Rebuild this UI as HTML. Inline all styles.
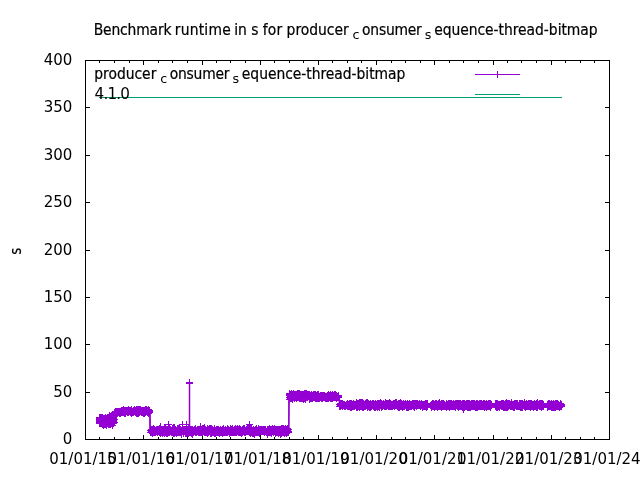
<!DOCTYPE html>
<html><head><meta charset="utf-8"><title>Benchmark runtime</title>
<style>html,body{margin:0;padding:0;background:#fff;overflow:hidden}svg{display:block}</style>
</head><body>
<svg width="640" height="480" viewBox="0 0 640 480">
<rect width="640" height="480" fill="#fff"/>
<path d="M99.5 439.5v-2.5M99.5 60.5v2.5M114.5 439.5v-2.5M114.5 60.5v2.5M129.5 439.5v-2.5M129.5 60.5v2.5M143.5 439.5v-4.5M143.5 60.5v4.5M158.5 439.5v-2.5M158.5 60.5v2.5M172.5 439.5v-2.5M172.5 60.5v2.5M187.5 439.5v-2.5M187.5 60.5v2.5M202.5 439.5v-4.5M202.5 60.5v4.5M216.5 439.5v-2.5M216.5 60.5v2.5M230.5 439.5v-2.5M230.5 60.5v2.5M245.5 439.5v-2.5M245.5 60.5v2.5M260.5 439.5v-4.5M260.5 60.5v4.5M274.5 439.5v-2.5M274.5 60.5v2.5M289.5 439.5v-2.5M289.5 60.5v2.5M303.5 439.5v-2.5M303.5 60.5v2.5M318.5 439.5v-4.5M318.5 60.5v4.5M332.5 439.5v-2.5M332.5 60.5v2.5M347.5 439.5v-2.5M347.5 60.5v2.5M361.5 439.5v-2.5M361.5 60.5v2.5M376.5 439.5v-4.5M376.5 60.5v4.5M391.5 439.5v-2.5M391.5 60.5v2.5M405.5 439.5v-2.5M405.5 60.5v2.5M420.5 439.5v-2.5M420.5 60.5v2.5M434.5 439.5v-4.5M434.5 60.5v4.5M449.5 439.5v-2.5M449.5 60.5v2.5M463.5 439.5v-2.5M463.5 60.5v2.5M478.5 439.5v-2.5M478.5 60.5v2.5M493.5 439.5v-4.5M493.5 60.5v4.5M507.5 439.5v-2.5M507.5 60.5v2.5M521.5 439.5v-2.5M521.5 60.5v2.5M536.5 439.5v-2.5M536.5 60.5v2.5M551.5 439.5v-4.5M551.5 60.5v4.5M565.5 439.5v-2.5M565.5 60.5v2.5M580.5 439.5v-2.5M580.5 60.5v2.5M594.5 439.5v-2.5M594.5 60.5v2.5M85.5 392.5h4.5M609.5 392.5h-4.5M85.5 344.5h4.5M609.5 344.5h-4.5M85.5 297.5h4.5M609.5 297.5h-4.5M85.5 250.5h4.5M609.5 250.5h-4.5M85.5 202.5h4.5M609.5 202.5h-4.5M85.5 155.5h4.5M609.5 155.5h-4.5M85.5 107.5h4.5M609.5 107.5h-4.5" stroke="#000" stroke-width="1" fill="none"/>
<path d="M99.5 419.7L99.6 421.3L99.6 418.1L99.7 417.9L99.8 420.7L99.8 422.3L99.9 421.8L100.0 423.9L100.1 418.2L100.1 419.2L100.2 422.1L100.3 417.7L100.3 422.4L100.4 421.2L100.5 423.4L100.5 421.7L100.6 423.1L100.7 420.5L100.8 418.9L100.8 423.3L100.9 423.9L101.0 421.4L101.0 423.3L101.1 417.8L101.2 422.4L101.2 420.0L101.3 417.5L101.4 417.9L101.5 417.8L101.5 418.3L101.6 421.8L101.7 418.9L101.7 420.2L101.8 418.6L101.9 418.9L101.9 417.2L102.0 420.6L102.1 421.1L102.2 422.9L102.2 423.7L102.3 420.7L102.4 418.0L102.4 418.9L102.5 417.4L102.6 418.7L102.6 422.1L102.7 419.1L102.8 424.0L102.9 421.0L102.9 420.0L103.0 424.3L103.1 421.5L103.1 421.8L103.2 424.8L103.3 419.9L103.3 423.3L103.4 418.8L103.5 425.1L103.6 422.5L103.6 421.4L103.7 419.5L103.8 422.0L103.8 425.1L103.9 420.1L104.0 419.1L104.0 423.8L104.1 423.5L104.2 422.5L104.3 420.5L104.3 423.6L104.4 419.7L104.5 424.7L104.5 418.6L104.6 423.9L104.7 421.8L104.7 422.1L104.8 422.4L104.9 424.9L105.0 418.5L105.0 419.4L105.1 420.4L105.2 423.9L105.2 424.4L105.3 424.0L105.4 417.4L105.4 421.8L105.5 418.6L105.6 419.4L105.7 421.9L105.7 419.5L105.8 422.8L105.9 424.1L105.9 421.6L106.0 420.7L106.1 420.8L106.1 424.0L106.2 421.7L106.3 418.1L106.4 418.3L106.4 423.5L106.5 418.4L106.6 424.0L106.6 418.7L106.7 425.1L106.8 418.3L106.8 418.8L106.9 423.4L107.0 418.9L107.1 422.7L107.1 423.7L107.2 418.6L107.3 419.5L107.3 420.6L107.4 418.2L107.5 421.8L107.5 422.7L107.6 417.5L107.7 417.5L107.8 417.6L107.8 421.6L107.9 419.1L108.0 418.1L108.0 417.6L108.1 423.4L108.2 421.1L108.2 421.7L108.3 421.6L108.4 421.4L108.5 421.0L108.5 423.3L108.6 424.8L108.7 423.5L108.7 419.7L108.8 418.3L108.9 418.3L108.9 423.7L109.0 419.0L109.1 420.6L109.2 424.8L109.2 421.8L109.3 418.8L109.4 420.9L109.4 419.1L109.5 418.0L109.6 415.6L109.6 418.6L109.7 422.3L109.8 423.7L109.9 419.1L109.9 422.6L110.0 421.6L110.1 423.2L110.1 423.7L110.2 424.0L110.3 422.4L110.3 417.4L110.4 423.8L110.5 422.0L110.6 417.0L110.6 422.6L110.7 417.6L110.8 419.1L110.8 419.2L110.9 424.4L111.0 422.6L111.0 421.9L111.1 419.0L111.2 419.4L111.3 419.0L111.3 422.1L111.4 420.8L111.5 418.0L111.5 423.6L111.6 423.7L111.7 420.4L111.7 418.9L111.8 417.9L111.9 422.9L112.0 423.5L112.0 415.1L112.1 420.9L112.2 418.6L112.2 425.5L112.3 423.1L112.4 423.7L112.4 419.0L112.5 423.8L112.6 418.6L112.7 416.8L112.7 418.7L112.8 419.6L112.9 423.5L112.9 421.3L113.0 421.4L113.1 421.7L113.1 417.7L113.2 422.8L113.3 418.2L113.4 423.2L113.4 419.9L113.5 417.3L113.6 420.2L113.6 422.6L113.7 417.2L113.8 418.3L113.8 420.2L113.9 421.0L114.0 418.6L114.1 416.2L114.1 419.3L114.2 422.1L114.6 412.6L114.7 413.1L114.8 412.1L115.0 413.0L115.1 412.4L115.2 412.3L115.3 412.3L115.4 412.7L115.6 411.5L115.7 412.5L115.8 412.5L115.9 413.0L116.0 412.0L116.2 411.8L116.3 412.5L116.4 412.4L116.5 413.2L116.6 412.5L116.8 412.5L116.9 412.4L117.0 412.4L117.1 412.1L117.2 412.5L117.4 412.1L117.5 412.8L117.6 412.7L117.7 412.0L117.8 413.0L118.0 412.1L118.1 411.6L118.2 412.3L118.3 411.8L118.4 411.4L118.6 412.1L118.7 412.7L118.8 412.5L118.9 411.6L119.0 412.7L119.2 412.2L119.3 412.4L119.4 413.0L119.5 412.0L119.6 412.3L119.8 411.7L119.9 411.4L120.0 412.6L120.1 413.2L120.2 412.7L120.4 412.5L120.5 412.1L120.6 411.4L120.7 412.7L120.8 413.2L121.0 412.1L121.1 411.9L121.2 412.3L121.3 412.3L121.4 412.5L121.6 412.2L121.9 410.4L122.0 412.6L122.1 412.3L122.3 411.7L122.4 411.7L122.5 412.2L122.6 410.1L122.7 412.2L122.9 411.7L123.0 411.5L123.1 411.4L123.2 409.7L123.3 412.5L123.5 411.1L123.6 411.1L123.7 412.5L123.8 412.0L123.9 411.6L124.1 411.3L124.2 413.1L124.3 410.8L124.4 410.5L124.5 411.8L124.7 411.9L124.8 410.1L124.9 410.8L125.0 410.9L125.1 411.5L125.3 411.1L125.4 411.4L125.5 411.7L125.6 410.3L125.7 413.1L125.9 411.4L126.0 411.8L126.1 411.2L126.2 410.5L126.3 410.5L126.5 410.5L126.6 411.2L126.7 411.0L126.8 410.7L126.9 411.1L127.1 411.4L127.2 412.0L127.3 410.7L127.4 411.0L127.5 410.8L127.7 411.4L127.8 411.8L127.9 411.4L128.0 412.4L128.1 409.8L128.3 411.8L128.4 411.8L128.5 412.1L128.6 411.1L128.7 411.3L128.9 412.9L129.0 410.4L129.1 410.7L129.2 411.8L129.3 411.8L129.5 411.1L129.6 410.6L129.7 410.9L129.8 411.2L129.9 411.9L130.1 411.8L130.2 411.6L130.3 411.2L130.4 411.1L130.5 410.8L130.7 411.8L130.8 411.0L130.9 412.4L131.0 413.1L131.1 409.7L131.3 411.3L131.4 413.2L131.5 410.8L131.6 409.9L131.7 412.4L131.9 412.5L132.0 411.5L132.1 412.4L132.2 412.0L132.3 411.8L132.5 412.0L132.6 412.2L132.7 412.0L132.8 411.5L132.9 411.8L133.1 411.1L133.2 411.4L133.3 412.4L133.4 410.7L133.5 411.5L133.7 410.8L133.8 411.7L133.9 410.9L134.0 410.6L134.1 411.3L134.3 411.1L134.4 409.7L134.5 411.4L134.6 411.2L134.7 410.5L134.9 410.8L135.0 410.4L135.1 411.9L135.2 410.5L135.3 411.7L135.5 410.8L135.6 411.4L135.7 410.9L135.8 411.5L135.9 412.0L136.1 412.1L136.2 411.2L136.3 411.4L136.4 411.2L136.5 409.9L136.7 410.6L136.8 411.4L136.9 413.1L137.0 409.7L137.1 412.2L137.3 413.1L137.4 411.8L137.5 411.1L137.6 412.1L137.7 411.7L137.9 411.9L138.0 411.0L138.1 409.7L138.2 411.4L138.3 410.7L138.5 411.4L138.6 412.5L138.7 413.1L138.8 412.1L138.9 412.7L139.1 410.9L139.2 410.8L139.3 409.9L139.4 410.6L139.5 410.8L139.7 410.8L139.8 412.5L139.9 411.3L140.0 410.9L140.1 411.6L140.3 411.7L140.4 410.8L140.5 410.3L140.6 410.8L140.7 409.3L140.9 410.7L141.0 410.8L141.1 411.8L141.2 411.9L141.3 412.2L141.5 411.4L141.6 411.6L141.7 412.5L141.8 410.7L141.9 410.7L142.1 411.4L142.2 411.9L142.3 412.4L142.4 410.3L142.5 412.6L142.7 411.5L142.8 410.8L142.9 410.7L143.0 411.4L143.1 413.1L143.3 410.9L143.4 411.7L143.5 412.5L143.6 411.5L143.7 411.8L143.9 412.5L144.0 411.6L144.1 410.9L144.2 413.1L144.3 411.9L144.5 413.0L144.6 411.5L144.7 411.4L144.8 410.5L144.9 411.4L145.1 411.6L145.2 410.8L145.3 409.9L145.4 410.5L145.5 411.1L145.7 411.3L145.8 412.6L145.9 411.5L146.0 411.3L146.1 411.3L146.3 409.7L146.4 412.0L146.5 410.9L146.6 410.5L146.7 410.4L146.9 409.8L147.0 411.7L147.1 410.1L147.2 411.9L147.3 411.7L147.5 412.6L147.6 411.5L147.7 411.6L147.8 411.1L147.9 411.8L148.1 411.0L148.2 410.3L148.3 412.4L148.4 411.9L148.5 412.2L148.7 409.8L148.8 413.1L148.9 410.4L149.0 411.6L149.1 411.5L149.3 410.3L149.4 410.2L149.5 411.7L149.6 411.6L149.7 411.0L149.9 412.2L150.0 411.1L150.6 432.8L150.7 432.3L150.8 430.7L151.0 432.2L151.1 431.2L151.2 430.0L151.3 432.5L151.4 431.3L151.6 430.6L151.7 431.8L151.8 431.0L151.9 432.3L152.0 431.0L152.2 431.5L152.3 432.2L152.4 430.8L152.5 433.3L152.6 430.6L152.8 429.7L152.9 432.8L153.0 432.0L153.1 430.3L153.2 430.2L153.4 431.4L153.5 430.7L153.6 428.9L153.7 432.1L153.8 430.2L154.0 431.1L154.1 432.3L154.2 431.0L154.3 429.3L154.4 432.2L154.6 432.8L154.7 431.6L154.8 432.1L154.9 431.9L155.0 431.9L155.2 431.3L155.3 431.9L155.4 431.4L155.5 431.6L155.6 430.3L155.8 430.9L155.9 432.8L156.0 430.7L156.1 431.9L156.2 431.7L156.4 430.9L156.5 429.8L156.6 431.6L156.7 431.5L156.8 430.3L157.0 430.5L157.1 429.7L157.2 432.0L157.3 432.2L157.4 432.0L157.6 430.3L157.7 430.3L157.8 431.4L157.9 431.3L158.0 429.2L158.2 430.2L158.3 430.0L158.4 432.0L158.5 431.7L158.6 430.4L158.8 430.4L158.9 430.1L159.0 430.2L159.1 431.7L159.2 432.5L159.4 428.7L159.5 431.3L159.6 431.2L159.7 432.3L159.8 430.5L160.0 429.2L160.1 430.5L160.2 431.7L160.3 429.8L160.4 431.4L160.6 432.7L160.7 433.3L160.8 433.3L160.9 430.8L161.0 430.4L161.2 432.1L161.3 430.5L161.4 431.7L161.5 432.3L161.6 430.5L161.8 430.4L161.9 431.5L162.0 431.6L162.1 429.5L162.2 431.4L162.4 433.3L162.5 431.9L162.6 429.1L162.7 430.4L162.8 430.8L163.0 431.5L163.1 430.3L163.2 430.3L163.3 432.6L163.4 431.3L163.6 430.6L163.7 432.2L163.8 430.4L163.9 430.1L164.0 433.0L164.2 431.8L164.3 432.4L164.4 432.7L164.5 427.5L164.6 430.5L164.8 430.3L164.9 431.2L165.0 433.0L165.1 432.7L165.2 429.8L165.4 429.4L165.5 429.7L165.6 431.5L165.7 428.9L165.8 429.1L166.0 430.6L166.1 430.2L166.2 430.7L166.3 430.6L166.4 431.0L166.6 429.7L166.7 431.1L166.8 433.2L166.9 431.1L167.0 429.9L167.2 429.1L167.3 431.4L167.4 430.9L167.5 432.6L167.6 431.3L167.8 429.4L167.9 433.3L168.0 431.2L168.1 430.8L168.2 429.8L168.4 432.9L168.5 429.1L168.6 430.7L168.7 429.7L168.8 431.7L169.0 431.5L169.1 430.0L169.2 428.7L169.3 430.9L169.4 430.5L169.6 431.9L169.7 429.7L169.8 429.5L169.9 432.1L170.0 430.0L170.2 431.7L170.3 431.0L170.4 429.9L170.5 429.3L170.6 429.8L170.8 429.9L170.9 430.7L171.0 430.3L171.1 431.0L171.2 430.5L171.4 433.0L171.5 430.4L171.6 430.1L171.7 430.2L171.8 430.7L172.0 430.5L172.1 432.1L172.2 432.4L172.3 428.3L172.4 431.5L172.6 432.1L172.7 430.2L172.8 430.4L172.9 432.3L173.0 430.8L173.2 430.5L173.3 430.4L173.4 427.4L173.5 433.2L173.6 433.1L173.8 431.2L173.9 431.2L174.0 430.9L174.1 430.3L174.2 430.5L174.4 428.8L174.5 429.8L174.6 429.7L174.7 430.9L174.8 433.3L175.0 427.5L175.1 431.2L175.2 430.6L175.3 432.2L175.4 433.0L175.6 430.0L175.7 432.1L175.8 432.3L175.9 432.6L176.0 430.2L176.2 430.1L176.3 432.9L176.4 430.3L176.5 433.3L176.6 432.2L176.8 430.2L176.9 432.4L177.0 430.2L177.1 430.4L177.2 429.8L177.4 432.2L177.5 431.3L177.6 429.3L177.7 430.1L177.8 432.0L178.0 428.8L178.1 431.9L178.2 428.9L178.3 432.2L178.4 429.3L178.6 430.7L178.7 431.4L178.8 431.6L178.9 432.8L179.0 429.6L179.2 429.9L179.3 430.9L179.4 432.9L179.5 432.8L179.6 432.1L179.8 428.8L179.9 429.8L180.0 429.5L180.1 431.2L180.2 431.8L180.4 432.6L180.5 429.9L180.6 431.8L180.7 432.1L180.8 431.0L181.0 431.2L181.1 430.3L181.2 430.8L181.3 434.5L181.4 431.0L181.6 430.2L181.7 430.6L181.8 432.9L181.9 430.4L182.0 431.0L182.2 431.3L182.3 431.3L182.4 431.2L182.5 428.7L182.6 431.7L182.8 430.1L182.9 430.3L183.0 430.9L183.1 432.5L183.2 430.4L183.4 430.0L183.5 433.3L183.6 430.2L183.7 429.2L183.8 433.0L184.0 429.6L184.1 431.4L184.2 429.2L184.3 431.6L184.4 431.2L184.6 430.6L184.7 430.1L184.8 431.8L184.9 431.6L185.0 430.3L185.2 431.1L185.3 430.9L185.4 430.8L185.5 433.3L185.6 431.6L185.8 432.6L185.9 429.2L186.0 433.2L186.1 432.5L186.2 430.0L186.4 431.3L186.5 430.6L186.6 430.5L186.7 430.7L186.8 429.6L187.0 430.9L187.1 432.2L187.2 431.6L187.3 430.1L187.4 430.0L187.6 433.3L187.7 433.3L187.8 431.9L187.9 430.1L188.0 431.1L188.2 428.7L188.3 433.3L188.4 431.8L188.5 431.5L188.6 430.9L188.8 430.1L188.9 433.2L189.0 431.0L189.1 431.1L189.2 431.5L189.4 432.1L189.5 430.4L189.6 430.7L189.7 430.8L189.8 430.3L190.0 430.0L190.1 430.2L190.2 429.6L190.3 429.8L190.4 431.1L190.6 431.4L190.7 430.9L190.8 430.6L190.9 432.3L191.0 429.1L191.2 434.0L191.3 431.6L191.4 430.3L191.5 430.5L191.6 431.5L191.8 432.4L191.9 431.0L192.0 432.3L192.1 432.3L192.2 430.2L192.4 432.6L192.5 433.2L192.6 431.9L192.7 429.6L192.8 430.9L193.0 434.4L193.1 431.2L193.2 431.5L193.3 431.5L193.4 431.1L193.6 432.5L193.7 431.2L193.8 430.8L193.9 430.5L194.0 431.6L194.2 431.2L194.3 430.9L194.4 431.6L194.5 429.1L194.6 429.8L194.8 431.0L194.9 430.3L195.0 430.1L195.1 431.8L195.2 428.8L195.4 432.7L195.5 431.1L195.6 432.0L195.7 431.9L195.8 428.7L196.0 432.3L196.1 431.5L196.2 431.0L196.3 432.2L196.4 430.6L196.6 430.9L196.7 431.6L196.8 431.1L196.9 432.5L197.0 430.4L197.2 431.2L197.3 430.8L197.4 430.6L197.5 430.2L197.6 430.4L197.8 430.4L197.9 431.9L198.0 430.7L198.1 432.1L198.2 432.1L198.4 430.9L198.5 432.3L198.6 431.4L198.7 431.4L198.8 430.8L199.0 431.8L199.1 431.8L199.2 429.7L199.3 431.5L199.4 432.7L199.6 430.0L199.7 430.2L199.8 431.2L199.9 432.4L200.0 432.1L200.2 431.1L200.3 429.7L200.4 430.5L200.5 430.4L200.6 432.9L200.8 431.9L200.9 430.1L201.0 429.3L201.1 431.7L201.2 432.8L201.4 430.5L201.5 430.0L201.6 432.4L201.7 431.6L201.8 429.7L202.0 431.1L202.1 429.7L202.2 431.5L202.3 430.7L202.4 432.9L202.6 428.7L202.7 431.0L202.8 431.5L202.9 428.7L203.0 429.8L203.2 431.4L203.3 429.9L203.4 431.9L203.5 431.5L203.6 428.8L203.8 431.4L203.9 431.9L204.0 430.6L204.1 430.8L204.2 432.2L204.4 429.2L204.5 428.7L204.6 427.7L204.7 432.1L204.8 432.7L205.0 430.0L205.1 429.6L205.2 430.8L205.3 430.0L205.4 432.2L205.6 430.4L205.7 429.7L205.8 429.8L205.9 431.9L206.0 432.3L206.2 430.7L206.3 432.1L206.4 431.0L206.5 431.5L206.6 431.9L206.8 430.4L206.9 431.0L207.0 432.5L207.1 428.7L207.2 431.5L207.4 431.8L207.5 431.3L207.6 431.7L207.7 428.8L207.8 433.3L208.0 429.3L208.1 432.1L208.2 432.0L208.3 431.0L208.4 430.6L208.6 430.3L208.7 430.8L208.8 432.7L208.9 429.9L209.0 430.5L209.2 431.0L209.3 430.5L209.4 428.9L209.5 430.7L209.6 431.2L209.8 431.1L209.9 430.8L210.0 430.0L210.1 433.0L210.2 432.5L210.4 429.9L210.5 431.4L210.6 428.7L210.7 429.6L210.8 431.0L211.0 431.3L211.1 430.0L211.2 433.3L211.3 428.7L211.4 429.2L211.6 431.1L211.7 432.1L211.8 430.1L211.9 433.2L212.0 431.0L212.2 431.7L212.3 431.9L212.4 430.8L212.5 429.9L212.6 430.8L212.8 432.5L212.9 432.5L213.0 431.3L213.1 431.9L213.2 432.2L213.4 432.0L213.5 432.5L213.6 431.3L213.7 430.5L213.8 431.2L214.0 430.4L214.1 428.9L214.2 433.0L214.3 430.2L214.4 431.0L214.6 430.8L214.7 430.1L214.8 430.4L214.9 431.6L215.0 431.4L215.2 430.6L215.3 430.7L215.4 433.0L215.5 430.1L215.6 430.6L215.8 432.0L215.9 433.0L216.0 432.1L216.1 431.9L216.2 430.9L216.4 431.4L216.5 432.3L216.6 432.3L216.7 432.7L216.8 429.9L217.0 431.6L217.1 432.3L217.2 431.7L217.3 429.6L217.4 431.9L217.6 431.6L217.7 430.1L217.8 432.9L217.9 432.7L218.0 431.3L218.2 431.1L218.3 430.6L218.4 429.6L218.5 432.1L218.6 431.8L218.8 429.7L218.9 429.4L219.0 431.7L219.1 433.4L219.2 430.9L219.4 431.3L219.5 431.8L219.6 431.3L219.7 431.6L219.8 433.3L220.0 430.6L220.1 429.9L220.2 430.9L220.3 431.5L220.4 432.6L220.6 430.3L220.7 430.1L220.8 430.1L220.9 429.8L221.0 431.6L221.2 431.0L221.3 430.7L221.4 430.9L221.5 432.4L221.6 430.2L221.8 430.8L221.9 430.3L222.0 431.4L222.1 430.5L222.2 429.3L222.4 429.8L222.5 430.9L222.6 430.3L222.7 433.3L222.8 429.9L223.0 432.8L223.1 431.8L223.2 432.5L223.3 431.2L223.4 428.8L223.6 430.5L223.7 431.6L223.8 431.6L223.9 432.7L224.0 430.4L224.2 432.2L224.3 431.2L224.4 431.1L224.5 432.6L224.6 431.9L224.8 432.0L224.9 431.8L225.0 430.9L225.1 431.0L225.2 429.1L225.4 429.1L225.5 431.0L225.6 433.0L225.7 431.6L225.8 431.6L226.0 432.5L226.1 432.0L226.2 432.8L226.3 430.7L226.4 431.7L226.6 430.0L226.7 432.1L226.8 431.0L226.9 431.3L227.0 431.8L227.2 429.4L227.3 429.6L227.4 431.0L227.5 430.6L227.6 430.8L227.8 428.7L227.9 432.1L228.0 430.6L228.1 431.0L228.2 430.9L228.4 431.3L228.5 429.8L228.6 429.8L228.7 430.9L228.8 429.9L229.0 429.1L229.1 430.6L229.2 432.2L229.3 431.2L229.4 431.5L229.6 433.3L229.7 430.5L229.8 432.6L229.9 430.6L230.0 430.3L230.2 429.6L230.3 432.3L230.4 430.6L230.5 429.7L230.6 428.8L230.8 433.0L230.9 432.5L231.0 431.9L231.1 429.8L231.2 431.7L231.4 431.5L231.5 431.5L231.6 432.7L231.7 432.5L231.8 430.1L232.0 430.8L232.1 431.2L232.2 432.5L232.3 430.6L232.4 430.8L232.6 428.9L232.7 431.9L232.8 431.0L232.9 430.4L233.0 432.7L233.2 432.3L233.3 432.4L233.4 430.6L233.5 431.1L233.6 430.6L233.8 432.5L233.9 431.1L234.0 430.7L234.1 429.8L234.2 432.0L234.4 429.9L234.5 431.9L234.6 432.7L234.7 430.1L234.8 429.1L235.0 430.8L235.1 428.7L235.2 430.6L235.3 430.7L235.4 433.0L235.6 432.7L235.7 431.4L235.8 432.2L235.9 431.2L236.0 431.2L236.2 431.6L236.3 432.3L236.4 430.5L236.5 431.4L236.6 430.2L236.8 429.1L236.9 429.9L237.0 428.7L237.1 431.0L237.2 428.7L237.4 430.5L237.5 430.0L237.6 431.6L237.7 430.0L237.8 431.9L238.0 431.5L238.1 430.7L238.2 430.8L238.3 429.5L238.4 431.3L238.6 432.5L238.7 431.1L238.8 430.7L238.9 431.6L239.0 431.2L239.2 430.8L239.3 432.3L239.4 428.7L239.5 430.5L239.6 431.4L239.8 432.4L239.9 429.6L240.0 430.4L240.1 431.7L240.2 432.6L240.4 430.3L240.5 430.9L240.6 429.6L240.7 429.9L240.8 430.6L241.0 429.5L241.1 433.3L241.2 431.0L241.3 431.8L241.4 433.3L241.6 431.1L241.7 430.1L241.8 430.6L241.9 430.7L242.0 431.9L242.2 432.0L242.3 430.6L242.4 431.6L242.5 431.3L242.6 429.8L242.8 432.6L242.9 432.2L243.0 431.5L243.1 431.0L243.2 431.2L243.4 430.8L243.5 430.2L243.6 429.2L243.7 429.6L243.8 430.7L244.0 428.7L244.1 431.9L244.2 428.8L244.3 431.5L244.4 432.3L244.6 431.7L244.7 430.6L244.8 430.3L244.9 430.1L245.0 432.1L245.2 431.4L245.3 430.3L245.4 432.2L245.5 430.8L245.6 431.0L245.8 431.4L245.9 431.0L246.0 430.8L246.1 431.4L246.2 431.1L246.4 430.5L246.5 429.5L246.6 430.6L246.7 430.2L246.8 430.4L247.0 430.5L247.1 429.1L247.2 431.4L247.3 428.7L247.4 428.7L247.6 430.6L247.7 430.8L247.8 431.2L247.9 429.9L248.0 431.0L248.2 428.4L248.3 430.5L248.4 430.3L248.5 430.8L248.6 431.4L248.8 431.6L248.9 431.1L249.0 431.2L249.1 432.3L249.2 430.9L249.4 431.4L249.5 429.8L249.6 432.5L249.7 432.2L249.8 429.1L250.0 432.3L250.1 428.8L250.2 432.4L250.3 431.1L250.4 431.9L250.6 431.1L250.7 431.8L250.8 429.9L250.9 433.3L251.0 432.3L251.2 432.9L251.3 431.0L251.4 428.9L251.5 428.7L251.6 431.2L251.8 430.0L251.9 430.3L252.0 431.6L252.1 433.3L252.2 431.5L252.4 430.4L252.5 430.9L252.6 431.2L252.7 433.3L252.8 431.1L253.0 431.6L253.1 431.4L253.2 429.6L253.3 433.2L253.4 431.3L253.6 431.0L253.7 430.9L253.8 430.7L253.9 430.5L254.0 434.5L254.2 431.2L254.3 432.0L254.4 431.9L254.5 431.8L254.6 432.6L254.8 430.4L254.9 431.0L255.0 431.9L255.1 430.5L255.2 432.4L255.4 429.8L255.5 431.0L255.6 431.4L255.7 429.8L255.8 431.8L256.0 432.4L256.1 429.6L256.2 430.6L256.3 432.3L256.4 429.7L256.6 428.7L256.7 432.5L256.8 430.5L256.9 431.3L257.0 431.8L257.2 431.0L257.3 432.6L257.4 431.2L257.5 431.5L257.6 431.3L257.8 430.8L257.9 430.1L258.0 429.8L258.1 432.9L258.2 431.0L258.4 428.7L258.5 429.0L258.6 431.0L258.7 429.9L258.8 429.4L259.0 430.7L259.1 430.0L259.2 430.0L259.3 430.8L259.4 433.3L259.6 429.7L259.7 430.8L259.8 432.3L259.9 430.4L260.0 431.3L260.2 430.2L260.3 429.4L260.4 431.4L260.5 431.2L260.6 430.7L260.8 431.2L260.9 430.5L261.0 431.9L261.1 431.7L261.2 430.5L261.4 431.1L261.5 430.6L261.6 429.8L261.7 431.0L261.8 430.3L262.0 430.2L262.1 430.9L262.2 430.8L262.3 431.1L262.4 431.7L262.6 431.3L262.7 430.6L262.8 431.8L262.9 429.5L263.0 429.3L263.2 431.4L263.3 429.5L263.4 430.0L263.5 431.4L263.6 429.6L263.8 431.9L263.9 429.9L264.0 432.0L264.1 432.8L264.2 430.7L264.4 430.8L264.5 431.4L264.6 429.7L264.7 430.8L264.8 432.5L265.0 431.2L265.1 431.6L265.2 430.0L265.3 429.8L265.4 431.5L265.6 430.1L265.7 429.3L265.8 430.4L265.9 429.7L266.0 431.6L266.2 431.5L266.3 431.4L266.4 431.3L266.5 432.6L266.6 431.6L266.8 432.7L266.9 431.6L267.0 433.1L267.1 431.0L267.2 430.3L267.4 434.5L267.5 432.2L267.6 430.7L267.7 431.8L267.8 429.8L268.0 430.9L268.1 432.4L268.2 429.5L268.3 431.1L268.4 431.4L268.6 429.7L268.7 431.3L268.8 431.2L268.9 430.3L269.0 431.9L269.2 431.3L269.3 430.1L269.4 430.6L269.5 430.5L269.6 432.7L269.8 428.7L269.9 431.8L270.0 432.1L270.1 431.4L270.2 431.3L270.4 430.7L270.5 432.3L270.6 430.3L270.7 430.2L270.8 429.5L271.0 431.3L271.1 430.5L271.2 431.4L271.3 431.3L271.4 429.5L271.6 431.9L271.7 430.7L271.8 430.4L271.9 433.1L272.0 431.6L272.2 430.1L272.3 430.5L272.4 431.9L272.5 430.5L272.6 432.0L272.8 428.7L272.9 430.1L273.0 431.2L273.1 432.4L273.2 430.8L273.4 429.8L273.5 431.3L273.6 430.5L273.7 432.3L273.8 430.5L274.0 431.0L274.1 429.7L274.2 428.7L274.3 431.2L274.4 431.5L274.6 431.3L274.7 431.5L274.8 430.3L274.9 431.7L275.0 429.5L275.2 433.3L275.3 430.4L275.4 432.1L275.5 431.9L275.6 432.8L275.8 430.5L275.9 430.8L276.0 429.9L276.1 431.1L276.2 430.3L276.4 432.0L276.5 432.1L276.6 430.6L276.7 430.4L276.8 429.9L277.0 432.9L277.1 431.3L277.2 431.4L277.3 429.6L277.4 431.0L277.6 431.7L277.7 432.2L277.8 431.4L277.9 432.1L278.0 431.1L278.2 433.3L278.3 433.3L278.4 431.3L278.5 429.4L278.6 430.2L278.8 431.5L278.9 430.2L279.0 431.7L279.1 431.4L279.2 430.7L279.4 429.3L279.5 429.9L279.6 431.0L279.7 432.6L279.8 429.7L280.0 429.8L280.1 431.5L280.2 429.8L280.3 434.2L280.4 430.6L280.6 431.3L280.7 430.7L280.8 430.4L280.9 431.3L281.0 431.8L281.2 433.0L281.3 431.0L281.4 431.5L281.5 428.7L281.6 431.5L281.8 432.5L281.9 432.5L282.0 432.0L282.1 432.7L282.2 430.6L282.4 432.3L282.5 428.7L282.6 432.0L282.7 429.2L282.8 431.9L283.0 429.2L283.1 432.4L283.2 430.7L283.3 433.0L283.4 430.6L283.6 431.1L283.7 431.8L283.8 428.7L283.9 431.1L284.0 429.4L284.2 432.3L284.3 433.0L284.4 430.2L284.5 429.7L284.6 429.2L284.8 432.1L284.9 430.9L285.0 428.2L285.1 429.3L285.2 430.0L285.4 430.2L285.5 429.7L285.6 432.8L285.7 431.8L285.8 431.5L286.0 429.9L286.1 429.2L286.2 433.1L286.3 431.6L286.4 432.1L286.6 430.7L286.7 429.1L286.8 429.4L286.9 432.3L287.0 430.6L287.2 431.3L287.3 430.4L287.4 428.7L287.5 429.0L287.6 431.6L287.8 432.2L287.9 431.9L288.0 429.1L288.1 432.8L288.2 432.4L288.4 431.7L288.5 429.9L289.2 397.8L289.3 394.0L289.4 395.9L289.6 393.6L289.7 399.1L289.8 395.4L289.9 394.5L290.0 398.0L290.2 394.7L290.3 395.8L290.4 396.9L290.5 397.4L290.6 397.7L290.8 394.3L290.9 397.7L291.0 396.3L291.1 395.0L291.2 398.3L291.4 395.9L291.5 393.5L291.6 398.7L291.7 396.1L291.8 397.0L292.0 396.6L292.1 394.9L292.2 396.8L292.3 395.6L292.4 396.0L292.6 396.6L292.7 399.1L292.8 395.4L292.9 397.1L293.0 395.9L293.2 397.1L293.3 396.9L293.4 397.3L293.5 395.9L293.6 393.6L293.8 397.0L293.9 395.9L294.0 397.0L294.1 394.2L294.2 395.4L294.4 394.1L294.5 398.7L294.6 395.4L294.7 395.4L294.8 397.1L295.0 394.5L295.1 396.1L295.2 397.3L295.3 396.3L295.4 394.0L295.6 397.2L295.7 397.0L295.8 394.7L295.9 394.5L296.0 398.4L296.2 395.3L296.3 396.7L296.4 394.9L296.5 394.5L296.6 395.9L296.8 397.1L296.9 397.2L297.0 393.4L297.1 396.2L297.2 394.6L297.4 397.3L297.5 396.9L297.6 393.5L297.7 396.2L297.8 394.5L298.0 396.1L298.1 393.5L298.2 397.7L298.3 397.9L298.4 396.1L298.6 396.7L298.7 396.1L298.8 397.2L298.9 394.4L299.0 393.3L299.2 396.0L299.3 395.7L299.4 398.2L299.5 396.2L299.6 397.7L299.8 396.8L299.9 398.8L300.0 396.9L300.1 395.3L300.2 395.2L300.4 396.7L300.5 398.7L300.6 396.8L300.7 394.5L300.8 397.9L301.0 396.5L301.1 394.6L301.2 394.5L301.3 394.3L301.4 396.1L301.6 398.8L301.7 396.1L301.8 396.8L301.9 396.2L302.0 394.1L302.2 396.8L302.3 395.7L302.4 397.0L302.5 397.0L302.6 398.4L302.8 396.9L302.9 398.3L303.0 394.1L303.1 395.4L303.2 399.1L303.4 395.2L303.5 397.1L303.6 398.7L303.7 396.6L303.8 396.1L304.0 397.6L304.1 397.4L304.2 396.1L304.3 394.3L304.4 398.7L304.6 396.8L304.7 396.6L304.8 393.3L304.9 397.0L305.0 393.5L305.2 396.6L305.3 394.6L305.4 395.5L305.5 399.1L305.6 396.6L305.8 397.7L305.9 396.0L306.0 397.3L306.1 393.6L306.2 394.3L306.4 396.1L306.5 396.3L306.6 395.8L306.7 396.3L306.8 397.4L307.0 396.8L307.1 394.1L307.2 396.4L307.3 397.4L307.4 395.4L307.6 396.9L307.7 396.9L307.8 394.7L307.9 394.5L308.0 396.1L308.2 395.7L308.3 395.1L308.4 394.2L308.5 395.6L308.6 394.7L308.8 395.8L308.9 395.9L309.0 396.4L309.1 397.6L309.2 394.6L309.4 394.4L309.5 398.8L309.6 395.8L309.7 396.4L309.8 399.1L310.0 398.1L310.1 395.3L310.2 396.4L310.3 396.4L310.4 398.4L310.6 395.8L310.7 397.1L310.8 397.7L310.9 398.7L311.0 398.6L311.2 394.1L311.3 394.2L311.4 396.2L311.5 396.6L311.6 396.4L311.8 396.1L311.9 396.3L312.0 398.4L312.1 395.5L312.2 396.4L312.4 395.6L312.5 396.5L312.6 395.8L312.7 396.7L312.8 396.6L313.0 395.7L313.1 396.3L313.2 395.4L313.3 396.2L313.4 396.0L313.6 395.5L313.7 394.4L313.8 394.5L313.9 397.3L314.0 396.4L314.1 394.8L314.2 396.5L314.4 396.4L314.5 394.7L314.6 397.5L314.7 395.1L314.8 397.2L315.0 396.1L315.1 397.3L315.2 398.0L315.3 396.4L315.4 398.3L315.6 394.6L315.7 396.6L315.8 395.2L315.9 397.6L316.0 395.8L316.2 398.1L316.3 396.9L316.4 395.4L316.5 396.1L316.6 397.9L316.8 397.2L316.9 396.5L317.0 394.6L317.1 396.0L317.2 395.6L317.4 394.6L317.5 396.1L317.6 395.4L317.7 398.6L317.8 397.1L318.0 397.6L318.1 396.6L318.2 394.9L318.3 398.1L318.4 396.9L318.6 398.0L318.7 396.3L318.8 395.3L318.9 395.7L319.0 396.8L319.2 396.7L319.3 397.5L319.4 397.4L319.5 396.3L319.6 398.3L319.8 396.3L319.9 397.6L320.0 396.5L320.1 396.2L320.2 396.7L320.4 396.4L320.5 397.7L320.6 395.2L320.7 397.2L320.8 396.6L321.0 395.9L321.1 395.5L321.2 396.9L321.3 397.0L321.4 395.9L321.6 395.5L321.7 398.5L321.8 396.8L321.9 395.6L322.0 397.8L322.2 396.6L322.3 397.6L322.4 396.6L322.5 398.4L322.6 396.7L322.8 395.9L322.9 395.9L323.0 397.2L323.1 396.8L323.2 396.4L323.4 396.6L323.5 396.8L323.6 395.1L323.7 397.0L323.8 396.0L324.0 396.7L324.1 396.9L324.2 396.9L324.3 397.8L324.4 396.1L324.6 396.6L324.7 395.3L324.8 396.9L324.9 396.2L325.0 396.6L325.2 397.2L325.3 397.3L325.4 397.0L325.5 396.6L325.6 396.2L325.8 397.0L325.9 398.0L326.0 397.7L326.1 396.5L326.2 397.4L326.4 397.7L326.5 396.8L326.6 396.7L326.7 397.8L326.8 397.7L327.0 398.0L327.1 397.2L327.2 395.9L327.3 396.8L327.4 397.9L327.6 396.7L327.7 396.9L327.8 397.2L327.9 398.2L328.0 395.4L328.2 398.9L328.3 397.5L328.4 394.6L328.5 396.4L328.6 396.1L328.8 396.1L328.9 397.7L329.0 396.6L329.1 396.2L329.2 397.5L329.4 397.6L329.5 396.7L329.6 398.0L329.7 396.6L329.8 395.1L330.0 396.0L330.1 398.4L330.2 398.3L330.3 395.3L330.4 396.4L330.6 396.7L330.7 397.2L330.8 394.8L330.9 397.7L331.0 397.4L331.2 396.4L331.3 398.6L331.4 397.3L331.5 395.5L331.6 398.6L331.8 396.2L331.9 397.7L332.0 395.1L332.1 397.2L332.2 397.1L332.4 397.3L332.5 394.6L332.6 398.5L332.7 397.6L332.8 396.3L333.0 395.9L333.1 395.1L333.2 396.4L333.3 395.8L333.4 395.8L333.6 397.7L333.7 396.7L333.8 396.2L333.9 396.1L334.0 396.7L334.2 397.7L334.3 394.6L334.4 398.0L334.5 396.5L334.6 395.7L334.8 397.1L334.9 397.1L335.0 397.1L335.1 396.7L335.2 397.8L335.4 397.2L335.5 395.6L335.6 397.8L335.7 396.4L335.8 396.6L336.0 394.8L336.1 398.5L336.2 395.7L336.3 395.5L336.4 397.2L336.6 398.2L336.7 397.2L336.8 395.4L336.9 396.0L337.0 396.8L337.2 396.2L337.3 396.7L337.4 396.6L337.5 397.3L337.6 396.6L337.8 396.8L337.9 396.6L338.0 397.2L338.1 396.5L338.2 396.2L338.4 397.5L338.5 397.0L338.6 396.7L338.7 395.5L338.8 395.5L339.0 396.5L339.6 404.1L339.7 406.3L339.8 404.5L340.0 404.7L340.1 404.1L340.2 405.7L340.3 403.3L340.4 405.7L340.6 406.6L340.7 405.2L340.8 405.6L340.9 405.5L341.0 405.6L341.2 404.6L341.3 404.5L341.4 403.5L341.5 404.8L341.6 405.3L341.8 406.0L341.9 403.4L342.0 403.6L342.1 404.7L342.2 404.4L342.4 405.4L342.5 403.2L342.6 405.3L342.7 404.2L342.8 406.5L343.0 405.6L343.1 404.5L343.2 405.0L343.3 404.4L343.4 405.3L343.6 404.1L343.7 405.0L343.8 405.2L343.9 404.6L344.0 404.3L344.2 405.2L344.3 404.6L344.4 406.2L344.5 404.3L344.6 405.9L344.8 404.7L344.9 404.8L345.0 405.0L345.1 405.4L345.2 405.9L345.4 406.0L345.5 406.7L345.6 405.8L345.7 406.0L345.8 405.6L346.0 405.9L346.1 405.4L346.2 405.4L346.3 405.3L346.4 405.4L346.6 404.5L346.7 404.2L346.8 405.5L346.9 405.6L347.0 405.0L347.2 406.9L347.3 403.7L347.4 404.4L347.5 404.6L347.6 405.0L347.8 404.5L347.9 406.6L348.0 406.3L348.1 405.1L348.2 406.3L348.4 405.7L348.5 404.4L348.6 404.7L348.7 405.7L348.8 406.0L349.0 406.7L349.1 404.1L349.2 406.0L349.3 404.8L349.4 405.0L349.6 406.1L349.7 404.7L349.8 405.5L349.9 403.8L350.0 405.9L350.2 405.2L350.3 407.2L350.4 404.9L350.5 403.4L350.6 404.5L350.8 404.2L350.9 404.2L351.0 404.9L351.1 406.2L351.2 403.4L351.4 406.7L351.5 404.4L351.6 407.1L351.7 405.7L351.8 404.1L352.0 406.7L352.1 405.3L352.2 406.0L352.3 405.0L352.4 405.3L352.6 405.5L352.7 405.3L352.8 404.1L352.9 405.4L353.0 404.6L353.2 406.5L353.3 406.5L353.4 404.1L353.5 404.7L353.6 404.9L353.8 403.9L353.9 405.0L354.0 404.7L354.1 404.5L354.2 406.7L354.4 404.7L354.5 406.5L354.6 405.4L354.7 404.7L354.8 405.3L355.0 405.3L355.1 404.1L355.2 405.3L355.3 404.4L355.4 404.2L355.6 405.5L355.7 405.4L355.8 405.9L355.9 405.6L356.0 406.3L356.2 406.7L356.3 407.2L356.4 405.3L356.5 404.5L356.6 405.2L356.8 403.0L356.9 405.2L357.0 405.3L357.1 407.2L357.2 403.6L357.4 404.6L357.5 404.9L357.6 403.8L357.7 405.8L357.8 404.0L358.0 405.7L358.1 406.1L358.2 405.1L358.3 405.2L358.4 405.9L358.6 403.3L358.7 403.7L358.8 404.8L358.9 403.4L359.0 404.8L359.2 407.1L359.3 406.2L359.4 404.7L359.5 405.6L359.6 403.6L359.8 403.0L359.9 403.0L360.0 405.1L360.1 405.8L360.2 404.4L360.4 404.5L360.5 405.7L360.6 405.5L360.7 405.6L360.8 406.2L361.0 403.0L361.1 405.3L361.2 404.6L361.3 404.8L361.4 404.3L361.6 403.0L361.7 404.2L361.8 405.5L361.9 406.3L362.0 406.8L362.2 407.2L362.3 404.2L362.4 406.3L362.5 404.3L362.6 405.5L362.8 404.9L362.9 403.0L363.0 406.2L363.1 403.6L363.2 403.7L363.4 407.2L363.5 405.3L363.6 405.6L363.7 406.0L363.8 405.3L364.0 403.6L364.1 406.8L364.2 406.5L364.3 404.5L364.4 404.0L364.6 406.0L364.7 404.4L364.8 405.9L364.9 404.3L365.0 404.9L365.2 406.0L365.3 403.3L365.4 406.5L365.5 405.6L365.6 405.7L365.8 404.9L365.9 403.4L366.0 403.0L366.1 404.4L366.2 404.5L366.4 405.4L366.5 404.8L366.6 405.4L366.7 403.0L366.8 403.5L367.0 405.3L367.1 405.3L367.2 405.6L367.3 405.5L367.4 403.8L367.6 403.0L367.7 404.1L367.8 405.5L367.9 407.2L368.0 404.6L368.2 405.4L368.3 405.6L368.4 406.3L368.5 405.6L368.6 403.4L368.8 405.8L368.9 406.1L369.0 404.1L369.1 407.0L369.2 404.4L369.4 405.5L369.5 405.6L369.6 407.0L369.7 405.2L369.8 407.0L370.0 405.2L370.1 403.6L370.2 404.4L370.3 407.2L370.4 404.4L370.6 404.5L370.7 405.7L370.8 405.6L370.9 403.2L371.0 404.4L371.2 406.7L371.3 406.2L371.4 406.8L371.5 405.5L371.6 404.9L371.8 406.2L371.9 406.5L372.0 404.2L372.1 404.5L372.2 405.2L372.4 404.6L372.5 405.9L372.6 404.3L372.7 404.9L372.8 403.6L373.0 405.0L373.1 404.4L373.2 403.5L373.3 406.8L373.4 403.9L373.6 405.7L373.7 403.1L373.8 405.7L373.9 404.6L374.0 405.2L374.2 405.0L374.3 404.8L374.4 405.1L374.5 404.5L374.6 405.1L374.8 407.0L374.9 406.9L375.0 406.2L375.1 403.9L375.2 405.4L375.4 403.8L375.5 407.1L375.6 405.3L375.7 404.6L375.8 404.8L376.0 405.6L376.1 405.3L376.2 404.3L376.3 406.3L376.4 404.3L376.6 404.2L376.7 404.2L376.8 407.0L376.9 406.4L377.0 405.1L377.2 404.3L377.3 407.2L377.4 404.5L377.5 404.1L377.6 404.7L377.8 403.9L377.9 405.3L378.0 403.4L378.1 404.5L378.2 405.9L378.4 404.4L378.5 406.0L378.6 406.2L378.7 404.2L378.8 403.3L379.0 404.8L379.1 404.2L379.2 404.1L379.3 403.4L379.4 407.1L379.6 406.1L379.7 403.9L379.8 404.2L379.9 407.2L380.0 405.2L380.2 405.2L380.3 404.6L380.4 405.1L380.5 404.1L380.6 403.0L380.8 405.1L380.9 405.0L381.0 406.0L381.1 404.9L381.2 404.6L381.4 403.4L381.5 403.3L381.6 404.1L381.7 407.1L381.8 406.6L382.0 404.2L382.1 405.0L382.2 405.0L382.3 404.7L382.4 406.4L382.6 406.2L382.7 404.1L382.8 406.3L382.9 406.6L383.0 405.0L383.2 404.9L383.3 403.8L383.4 405.1L383.5 405.7L383.6 403.5L383.8 404.1L383.9 403.9L384.0 404.5L384.1 405.5L384.2 405.1L384.4 405.1L384.5 404.3L384.6 406.1L384.7 405.8L384.8 405.2L385.0 404.4L385.1 403.9L385.2 405.5L385.3 405.3L385.4 405.5L385.6 406.4L385.7 405.9L385.8 403.0L385.9 404.9L386.0 404.8L386.2 406.0L386.3 404.5L386.4 405.4L386.5 406.0L386.6 403.9L386.8 406.3L386.9 405.5L387.0 405.0L387.1 403.4L387.2 404.6L387.4 404.1L387.5 405.2L387.6 405.0L387.7 405.2L387.8 405.5L388.0 404.7L388.1 405.8L388.2 403.8L388.3 406.0L388.4 406.3L388.6 405.7L388.7 406.1L388.8 405.8L388.9 404.5L389.0 404.0L389.2 406.9L389.3 404.3L389.4 404.6L389.5 405.2L389.6 403.0L389.8 403.7L389.9 405.3L390.0 404.6L390.1 403.6L390.2 404.3L390.4 404.0L390.5 406.3L390.6 405.0L390.7 405.1L390.8 406.1L391.0 404.0L391.1 405.0L391.2 404.6L391.3 405.4L391.4 405.1L391.6 406.0L391.7 405.1L391.8 406.0L391.9 404.1L392.0 406.4L392.2 404.7L392.3 404.2L392.4 405.2L392.5 404.5L392.6 404.7L392.8 404.0L392.9 405.1L393.0 404.3L393.1 404.9L393.2 405.3L393.4 403.9L393.5 404.1L393.6 405.0L393.7 404.6L393.8 403.2L394.0 405.4L394.1 406.2L394.2 404.0L394.3 406.5L394.4 405.3L394.6 406.9L394.7 404.0L394.8 403.9L394.9 404.9L395.0 405.3L395.2 403.8L395.3 403.0L395.4 404.8L395.5 405.5L395.6 404.1L395.8 405.2L395.9 404.6L396.0 403.0L396.1 404.1L396.2 405.5L396.4 405.4L396.5 405.7L396.6 405.7L396.7 404.3L396.8 404.5L397.0 405.4L397.1 406.8L397.2 406.6L397.3 404.4L397.4 404.4L397.6 404.6L397.7 404.3L397.8 404.3L397.9 406.5L398.0 406.7L398.2 405.3L398.3 405.7L398.4 407.1L398.5 403.9L398.6 404.4L398.8 404.4L398.9 406.4L399.0 405.6L399.1 405.6L399.2 403.6L399.4 406.8L399.5 405.2L399.6 407.2L399.7 404.9L399.8 405.3L400.0 404.9L400.1 406.9L400.2 406.1L400.3 405.4L400.4 405.5L400.6 403.1L400.7 405.3L400.8 404.6L400.9 403.0L401.0 406.3L401.2 405.1L401.3 405.2L401.4 404.3L401.5 405.9L401.6 404.7L401.8 403.9L401.9 403.9L402.0 405.0L402.1 405.6L402.2 407.2L402.4 404.1L402.5 404.2L402.6 406.1L402.7 404.8L402.8 404.2L403.0 404.9L403.1 404.5L403.2 406.0L403.3 404.6L403.4 405.5L403.6 404.1L403.7 405.5L403.8 403.2L403.9 405.6L404.0 405.8L404.2 405.2L404.3 404.5L404.4 404.0L404.5 405.8L404.6 406.4L404.8 404.8L404.9 404.7L405.0 404.2L405.1 405.0L405.2 403.7L405.4 405.3L405.5 404.5L405.6 403.9L405.7 404.4L405.8 404.8L406.0 403.5L406.1 404.4L406.2 407.0L406.3 404.7L406.4 404.9L406.6 404.9L406.7 405.0L406.8 404.3L406.9 405.7L407.0 407.4L407.2 404.0L407.3 404.6L407.4 403.9L407.5 405.9L407.6 404.1L407.8 404.5L407.9 404.7L408.0 404.7L408.1 404.7L408.2 407.2L408.4 406.2L408.5 405.0L408.6 406.8L408.7 404.2L408.8 407.1L409.0 406.4L409.1 405.5L409.2 404.7L409.3 405.4L409.4 404.0L409.6 404.8L409.7 406.8L409.8 404.7L409.9 404.1L410.0 406.1L410.2 404.8L410.3 406.8L410.4 405.4L410.5 404.7L410.6 405.7L410.8 404.5L410.9 404.2L411.0 406.1L411.1 404.5L411.2 405.6L411.4 406.7L411.5 405.8L411.6 405.6L411.7 404.1L411.8 406.1L412.0 407.0L412.1 405.1L412.2 403.8L412.3 404.6L412.4 405.2L412.6 404.2L412.7 404.3L412.8 403.4L412.9 405.8L413.0 404.9L413.2 404.5L413.3 405.1L413.4 404.6L413.5 405.5L413.6 405.5L413.8 406.2L413.9 403.1L414.0 407.7L414.1 405.1L414.2 405.3L414.4 403.7L414.5 405.3L414.6 404.2L414.7 403.7L414.8 404.4L415.0 406.5L415.1 405.7L415.2 403.5L415.3 404.6L415.4 405.3L415.6 404.9L415.7 405.1L415.8 405.5L415.9 404.7L416.0 406.2L416.2 405.0L416.3 404.6L416.4 404.1L416.5 404.5L416.6 403.4L416.8 406.8L416.9 405.5L417.0 404.4L417.1 405.7L417.2 404.0L417.4 405.0L417.5 405.7L417.6 404.1L417.7 405.9L417.8 404.4L418.0 403.8L418.1 405.4L418.2 405.4L418.3 404.8L418.4 405.3L418.6 405.1L418.7 405.8L418.8 404.1L418.9 404.7L419.0 403.5L419.2 404.2L419.3 404.7L419.4 403.8L419.5 404.8L419.6 405.6L419.8 405.3L419.9 404.2L420.0 406.4L420.1 406.2L420.2 406.8L420.4 405.4L420.5 404.1L420.6 405.9L420.7 404.2L420.8 405.0L421.0 404.4L421.1 405.4L421.2 403.9L421.3 403.5L421.4 405.0L421.6 405.6L421.7 405.6L421.8 404.6L421.9 405.0L422.0 405.7L422.2 407.2L422.3 404.3L422.4 404.9L422.5 405.2L422.6 404.6L422.8 406.4L422.9 405.5L423.0 404.9L423.1 406.1L423.2 405.2L423.4 405.7L423.5 405.2L423.6 405.7L423.7 405.5L423.8 405.6L424.0 404.1L424.1 405.3L424.2 404.8L424.3 406.1L424.4 404.7L424.6 405.4L424.7 405.3L424.8 404.9L424.9 404.3L425.0 404.3L425.2 405.4L425.3 404.9L425.4 406.6L425.5 404.3L425.6 405.1L425.8 403.4L425.9 405.1L426.0 405.8L426.1 404.6L426.2 407.2L426.4 404.9L426.5 404.6L426.6 404.6L426.7 405.6L426.8 403.9L427.0 405.5L427.1 405.8L427.2 403.5L427.3 405.5L427.4 406.0L427.6 405.8L431.0 405.9L431.1 405.4L431.2 404.3L431.4 405.7L431.5 404.6L431.6 404.3L431.7 406.2L431.8 407.3L432.0 406.4L432.1 405.1L432.2 405.1L432.3 403.5L432.4 405.8L432.6 404.6L432.7 404.8L432.8 406.1L432.9 406.1L433.0 403.9L433.2 404.5L433.3 404.9L433.4 406.1L433.5 406.6L433.6 404.2L433.8 407.0L433.9 405.1L434.0 405.3L434.1 407.3L434.2 405.4L434.4 408.0L434.5 405.2L434.6 405.4L434.7 404.1L434.8 404.6L435.0 406.2L435.1 405.0L435.2 406.6L435.3 406.5L435.4 406.6L435.6 403.4L435.7 404.6L435.8 405.1L435.9 406.3L436.0 403.6L436.2 404.4L436.3 406.9L436.4 404.3L436.5 406.1L436.6 404.8L436.8 404.5L436.9 403.1L437.0 406.9L437.1 404.5L437.2 405.3L437.4 404.3L437.5 405.5L437.6 404.5L437.7 405.6L437.8 405.6L438.0 407.3L438.1 404.1L438.2 404.8L438.3 404.7L438.4 406.2L438.6 405.1L438.7 405.7L438.8 403.4L438.9 406.3L439.0 405.3L439.2 406.1L439.3 404.4L439.4 404.2L439.5 405.9L439.6 405.2L439.8 402.8L439.9 403.4L440.0 406.1L440.1 405.9L440.2 404.0L440.4 404.5L440.5 404.9L440.6 404.9L440.7 404.1L440.8 405.3L441.0 405.6L441.1 403.9L441.2 407.3L441.3 403.1L441.4 406.3L441.6 404.1L441.7 406.2L441.8 403.2L441.9 404.6L442.0 405.8L442.2 404.6L442.3 406.3L442.4 406.4L442.5 404.5L442.6 405.0L442.8 404.8L442.9 403.1L443.0 404.3L443.1 404.2L443.2 406.1L443.4 405.3L443.5 405.3L443.6 404.9L443.7 405.3L443.8 406.2L444.0 403.8L444.1 404.9L444.2 407.0L444.3 404.7L444.4 404.2L444.6 405.1L444.7 405.8L444.8 406.4L444.9 406.0L445.0 405.3L445.2 406.2L445.3 406.9L445.4 405.5L445.5 405.0L445.6 405.8L445.8 405.9L445.9 406.6L446.0 406.5L446.1 406.0L446.2 403.4L446.4 405.5L446.5 407.4L446.6 404.5L446.7 405.4L446.8 403.4L447.0 406.1L447.1 405.1L447.2 404.6L447.3 406.7L447.4 404.4L447.6 404.9L447.7 406.6L447.8 406.8L447.9 404.7L448.0 403.7L448.2 405.3L448.3 404.3L448.4 405.4L448.5 404.0L448.6 406.0L448.8 405.8L448.9 406.8L449.0 406.0L449.1 405.9L449.2 405.6L449.4 404.2L449.5 405.8L449.6 405.3L449.7 407.0L449.8 403.6L450.0 404.9L450.1 405.0L450.2 406.0L450.3 404.8L450.4 406.0L450.6 404.2L450.7 405.3L450.8 403.9L450.9 405.6L451.0 405.2L451.2 405.7L451.3 405.8L451.4 406.1L451.5 403.7L451.6 406.6L451.8 406.3L451.9 406.2L452.0 404.7L452.1 404.4L452.2 404.1L452.4 405.6L452.5 406.3L452.6 404.7L452.7 406.5L452.8 404.5L453.0 405.4L453.1 405.2L453.2 403.8L453.3 406.6L453.4 404.1L453.6 405.4L453.7 405.1L453.8 404.7L453.9 404.4L454.0 406.0L454.2 406.6L454.3 404.7L454.4 406.4L454.5 405.7L454.6 406.3L454.8 405.1L454.9 406.4L455.0 407.3L455.1 404.5L455.2 405.6L455.4 403.1L455.5 406.2L455.6 405.8L455.7 405.4L455.8 405.8L456.0 404.7L456.1 403.9L456.2 404.9L456.3 404.4L456.4 403.8L456.6 405.6L456.7 404.4L456.8 404.8L456.9 404.6L457.0 406.9L457.2 405.6L457.3 404.5L457.4 405.5L457.5 405.7L457.6 404.1L457.8 405.7L457.9 403.9L458.0 404.6L458.1 404.9L458.2 403.7L458.4 404.9L458.5 405.4L458.6 404.9L458.7 407.2L458.8 405.0L459.0 404.3L459.1 404.7L459.2 406.8L459.3 403.5L459.4 404.3L459.6 405.3L459.7 405.2L459.8 405.5L459.9 405.3L460.0 404.3L460.2 403.5L460.3 404.7L460.4 405.3L460.5 404.5L460.6 403.8L460.8 405.3L460.9 403.7L461.0 404.9L461.1 404.6L461.2 405.1L461.4 404.5L461.5 406.0L461.6 405.8L461.7 406.0L461.8 406.7L462.0 405.5L462.1 405.6L462.2 404.9L462.3 407.3L462.4 405.2L462.6 403.6L462.7 407.3L462.8 404.2L462.9 404.4L463.0 403.2L463.2 407.2L463.3 406.2L463.4 407.6L463.5 405.3L463.6 405.7L463.8 405.5L463.9 405.9L464.0 404.8L464.1 406.4L464.2 403.9L464.4 407.2L464.5 404.3L464.6 405.3L464.7 404.8L464.8 404.9L465.0 406.8L465.1 405.5L465.2 405.7L465.3 404.4L465.4 405.7L465.6 406.6L465.7 405.8L465.8 406.7L465.9 405.6L466.0 405.6L466.2 405.3L466.3 404.7L466.4 405.7L466.5 405.7L466.6 406.1L466.8 404.8L466.9 403.7L467.0 407.3L467.1 403.1L467.2 404.5L467.4 405.5L467.5 403.5L467.6 405.7L467.7 405.1L467.8 404.5L468.0 406.7L468.1 407.3L468.2 405.9L468.3 403.3L468.4 405.5L468.6 406.4L468.7 405.4L468.8 404.7L468.9 404.2L469.0 405.6L469.2 405.1L469.3 405.1L469.4 405.1L469.5 403.6L469.6 404.1L469.8 407.7L469.9 405.8L470.0 405.3L470.1 405.3L470.2 405.8L470.4 404.7L470.5 404.9L470.6 406.3L470.7 405.2L470.8 407.3L471.0 406.8L471.1 406.8L471.2 405.6L471.3 406.0L471.4 406.2L471.6 406.0L471.7 404.4L471.8 403.7L471.9 405.6L472.0 403.9L472.2 405.1L472.3 406.1L472.4 405.3L472.5 405.0L472.6 405.3L472.8 406.4L472.9 404.1L473.0 404.7L473.1 406.8L473.2 403.7L473.4 404.2L473.5 406.1L473.6 403.5L473.7 405.3L473.8 405.7L474.0 404.1L474.1 403.7L474.2 406.5L474.3 404.5L474.4 403.4L474.6 405.3L474.7 404.2L474.8 405.7L474.9 404.5L475.0 406.0L475.2 405.6L475.3 406.5L475.4 405.1L475.5 404.4L475.6 404.7L475.8 407.4L475.9 404.9L476.0 406.3L476.1 406.8L476.2 404.0L476.4 404.6L476.5 403.4L476.6 405.4L476.7 407.1L476.8 406.3L477.0 406.1L477.1 404.6L477.2 405.3L477.3 406.9L477.4 406.0L477.6 407.1L477.7 403.7L477.8 404.3L477.9 404.6L478.0 405.1L478.2 404.7L478.3 404.4L478.4 404.8L478.5 405.9L478.6 406.7L478.8 406.1L478.9 404.9L479.0 404.0L479.1 406.0L479.2 405.7L479.4 405.3L479.5 404.7L479.6 406.6L479.7 405.2L479.8 406.6L480.0 405.7L480.1 405.9L480.2 405.5L480.3 405.8L480.4 404.7L480.6 406.1L480.7 404.2L480.8 405.4L480.9 403.1L481.0 406.3L481.2 403.6L481.3 404.9L481.4 406.6L481.5 406.8L481.6 404.0L481.8 405.5L481.9 404.4L482.0 406.6L482.1 406.5L482.2 405.9L482.4 405.5L482.5 404.3L482.6 404.9L482.7 405.0L482.8 406.2L483.0 404.5L483.1 403.1L483.2 405.8L483.3 405.4L483.4 405.8L483.6 403.9L483.7 406.9L483.8 405.0L483.9 406.0L484.0 405.1L484.2 404.6L484.3 404.4L484.4 405.8L484.5 405.6L484.6 404.2L484.8 404.0L484.9 407.3L485.0 406.8L485.1 404.8L485.2 405.7L485.4 405.2L485.5 405.8L485.6 404.5L485.7 405.2L485.8 405.6L486.0 405.9L486.1 403.6L486.2 404.6L486.3 407.1L486.4 404.1L486.6 405.7L486.7 405.3L486.8 404.7L486.9 405.0L487.0 404.7L487.2 404.7L487.3 405.5L487.4 405.6L487.5 405.7L487.6 404.2L487.8 406.1L487.9 405.3L488.0 404.8L488.1 406.8L488.2 403.4L488.4 405.5L488.5 403.9L488.6 407.0L488.7 406.4L488.8 404.7L489.0 405.1L489.1 405.8L489.2 403.1L489.3 405.3L489.4 403.6L489.6 406.3L489.7 406.8L489.8 404.7L489.9 406.0L490.0 405.9L490.2 404.5L490.3 406.3L490.4 403.8L490.5 404.9L490.6 407.3L490.8 405.8L490.9 405.6L491.0 405.7L491.1 404.0L491.2 404.1L491.4 405.9L491.5 405.7L495.6 405.6L495.7 405.9L495.8 403.8L496.0 406.1L496.1 405.4L496.2 403.5L496.3 404.9L496.4 406.7L496.6 404.3L496.7 404.8L496.8 407.4L496.9 404.7L497.0 406.9L497.2 403.9L497.3 406.9L497.4 403.5L497.5 404.6L497.6 407.4L497.8 405.4L497.9 405.6L498.0 404.8L498.1 405.8L498.2 404.4L498.4 405.8L498.5 405.5L498.6 404.9L498.7 406.0L498.8 407.0L499.0 404.2L499.1 404.8L499.2 406.6L499.3 406.9L499.4 404.8L499.6 406.0L499.7 406.0L499.8 407.3L499.9 405.1L500.0 405.3L500.2 405.5L500.3 404.4L500.4 405.1L500.5 404.6L500.6 404.8L500.8 405.0L500.9 404.1L501.0 406.4L501.1 405.6L501.2 406.7L501.4 403.6L501.5 404.6L501.6 405.3L501.7 405.8L501.8 404.4L502.0 405.3L502.1 406.8L502.2 406.6L502.3 404.9L502.4 406.1L502.6 403.6L502.7 404.3L502.8 405.0L502.9 403.2L503.0 403.2L503.2 407.4L503.3 405.3L503.4 405.5L503.5 404.4L503.6 404.9L503.8 407.3L503.9 404.6L504.0 406.4L504.1 405.4L504.2 404.4L504.4 406.3L504.5 405.0L504.6 404.9L504.7 405.0L504.8 404.4L505.0 407.2L505.1 405.3L505.2 407.4L505.3 404.8L505.4 403.2L505.6 405.0L505.7 405.9L505.8 404.4L505.9 406.0L506.0 405.5L506.2 407.3L506.3 406.3L506.4 404.8L506.5 404.4L506.6 402.9L506.8 404.7L506.9 405.2L507.0 407.2L507.1 405.3L507.2 405.4L507.4 405.2L507.5 405.5L507.6 403.2L507.7 403.8L507.8 405.1L508.0 404.8L508.1 406.2L508.2 405.2L508.3 405.9L508.4 406.2L508.6 405.5L508.7 404.7L508.8 403.2L508.9 406.0L509.0 404.8L509.2 404.4L509.3 405.4L509.4 404.1L509.5 404.4L509.6 404.6L509.8 403.2L509.9 404.6L510.0 404.9L510.1 406.0L510.2 405.3L510.4 406.9L510.5 406.3L510.6 404.9L510.7 405.6L510.8 406.2L511.0 404.9L511.1 406.4L511.2 406.7L511.3 402.7L511.4 404.6L511.6 406.6L511.7 405.5L511.8 406.0L511.9 404.4L512.0 404.3L512.2 404.4L512.3 406.1L512.4 405.3L512.5 405.0L512.6 405.3L512.8 405.5L512.9 404.8L513.0 404.2L513.1 405.1L513.2 407.4L513.4 404.2L513.5 405.5L513.6 405.5L513.7 404.7L513.8 404.6L514.0 405.1L514.1 405.3L514.2 407.4L514.3 406.5L514.4 406.4L514.6 405.3L514.7 406.0L514.8 403.6L514.9 405.8L515.0 405.3L515.2 404.5L515.3 405.2L515.4 405.3L515.5 405.4L515.6 405.6L515.8 403.4L515.9 405.7L516.0 403.2L516.1 405.3L516.2 404.5L516.4 405.7L516.5 405.3L516.6 406.5L516.7 405.3L516.8 405.4L517.0 404.4L517.1 404.7L517.2 403.2L517.3 405.2L517.4 403.9L517.6 405.7L517.7 405.5L517.8 406.9L517.9 405.8L518.0 405.8L518.2 406.9L518.3 405.5L518.4 406.6L518.5 406.6L518.6 407.0L518.8 405.7L518.9 406.0L519.0 404.9L519.1 406.5L519.2 404.0L519.4 404.6L519.5 405.3L519.6 405.3L519.7 405.7L519.8 405.7L520.0 405.4L520.1 405.5L520.2 403.9L520.3 405.3L520.4 405.4L520.6 404.8L520.7 406.3L520.8 407.3L520.9 405.5L521.0 406.1L521.2 405.3L521.3 405.8L521.4 407.2L521.5 404.0L521.6 405.3L521.8 404.1L521.9 404.2L522.0 405.0L522.1 407.3L522.2 405.6L522.4 406.9L522.5 406.1L522.6 405.9L522.7 407.3L522.8 403.5L523.0 407.0L523.1 404.9L523.2 404.6L523.3 405.5L523.4 404.7L523.6 404.3L523.7 404.1L523.8 405.3L523.9 404.6L524.0 405.3L524.2 405.9L524.3 406.5L524.4 404.3L524.5 404.2L524.6 402.9L524.8 404.6L524.9 406.9L525.0 406.2L525.1 404.4L525.2 405.1L525.4 404.1L525.5 405.9L525.6 405.5L525.7 404.0L525.8 407.4L526.0 404.6L526.1 404.3L526.2 404.8L526.3 405.6L526.4 406.9L526.6 404.8L526.7 403.7L526.8 405.6L526.9 404.5L527.0 406.4L527.2 404.9L527.3 405.1L527.4 405.1L527.5 405.8L527.6 405.8L527.8 406.3L527.9 404.3L528.0 405.1L528.1 405.7L528.2 405.1L528.4 406.3L528.5 403.4L528.6 403.1L528.7 405.4L528.8 404.5L529.0 405.9L529.1 403.2L529.2 404.1L529.3 405.7L529.4 404.5L529.6 403.9L529.7 405.0L529.8 404.2L529.9 406.4L530.0 404.7L530.2 405.9L530.3 405.1L530.4 406.5L530.5 405.8L530.6 407.1L530.8 405.6L530.9 403.7L531.0 406.1L531.1 404.7L531.2 406.2L531.4 404.5L531.5 405.0L531.6 405.3L531.7 403.4L531.8 404.4L532.0 404.8L532.1 405.4L532.2 405.1L532.3 404.1L532.4 406.7L532.6 404.9L532.7 405.7L532.8 406.0L532.9 404.3L533.0 404.7L533.2 405.0L533.3 404.0L533.4 407.4L533.5 404.4L533.6 404.4L533.8 406.0L533.9 405.8L534.0 405.0L534.1 406.2L534.2 404.6L534.4 403.5L534.5 405.1L534.6 405.5L534.7 405.3L534.8 405.3L535.0 404.2L535.1 405.8L535.2 404.8L535.3 406.2L535.4 405.8L535.6 405.2L535.7 405.0L535.8 406.4L535.9 406.1L536.0 406.1L536.2 403.9L536.3 406.1L536.4 405.6L536.5 407.4L536.6 404.9L536.8 405.4L536.9 404.1L537.0 405.8L537.1 405.8L537.2 403.8L537.4 402.4L537.5 403.8L537.6 405.1L537.7 407.4L537.8 406.4L538.0 404.5L538.1 405.9L538.2 405.5L538.3 404.0L538.4 405.1L538.6 404.9L538.7 405.7L538.8 404.0L538.9 404.6L539.0 404.9L539.2 404.5L539.3 406.1L539.4 404.9L539.5 404.8L539.6 403.7L539.8 405.3L539.9 405.6L540.0 405.8L540.1 404.2L540.2 405.3L540.4 406.6L540.5 405.4L540.6 404.1L540.7 406.5L540.8 403.4L541.0 406.6L541.1 407.4L541.2 405.9L541.3 403.8L541.4 405.9L541.6 405.7L541.7 403.8L541.8 405.5L541.9 406.1L542.0 403.2L542.2 404.2L542.3 404.1L542.4 405.5L542.5 406.4L542.6 404.4L542.8 404.8L542.9 404.1L543.0 405.2L543.1 405.5L543.2 405.4L543.4 404.6L543.5 404.3L543.6 406.0L543.7 404.1L543.8 406.4L544.0 404.6L547.8 407.1L547.9 404.5L548.0 406.3L548.2 406.0L548.3 406.6L548.4 406.9L548.5 403.3L548.6 406.7L548.8 405.0L548.9 404.9L549.0 405.1L549.1 405.1L549.2 405.5L549.4 406.7L549.5 404.5L549.6 403.5L549.7 404.8L549.8 405.2L550.0 404.8L550.1 406.3L550.2 404.8L550.3 405.1L550.4 404.4L550.6 405.2L550.7 404.7L550.8 405.2L550.9 405.1L551.0 405.2L551.2 407.0L551.3 403.5L551.4 405.6L551.5 405.0L551.6 404.1L551.8 404.8L551.9 405.3L552.0 404.7L552.1 407.1L552.2 405.1L552.4 404.3L552.5 406.3L552.6 405.5L552.7 406.6L552.8 404.6L553.0 405.0L553.1 407.1L553.2 405.4L553.3 404.7L553.4 405.5L553.6 403.6L553.7 405.2L553.8 405.7L553.9 404.2L554.0 405.5L554.2 404.5L554.3 406.5L554.4 405.4L554.5 406.1L554.6 407.3L554.8 404.6L554.9 405.0L555.0 405.4L555.1 403.5L555.2 405.4L555.4 405.0L555.5 407.3L555.6 405.6L555.7 405.1L555.8 404.6L556.0 406.0L556.1 406.8L556.2 403.9L556.3 406.7L556.4 405.2L556.6 405.1L556.7 404.7L556.8 406.2L556.9 405.2L557.0 405.1L557.2 406.3L557.3 406.7L557.4 406.0L557.5 403.5L557.6 406.2L557.8 403.9L557.9 405.8L558.0 406.2L558.1 405.6L558.2 404.6L558.4 406.2L558.5 405.7L558.6 404.8L558.7 406.1L558.8 404.7L559.0 404.7L559.1 405.2L559.2 406.5L559.3 406.1L559.4 406.3L559.6 407.3L559.7 406.2L559.8 406.7L559.9 405.8L560.0 404.0L560.2 406.2L560.3 404.5L560.4 406.1L560.5 405.6L560.6 405.9L560.8 405.4L560.9 405.1L561.0 406.1L561.1 405.0L561.2 404.6L561.4 405.2L561.5 405.2L561.6 404.6L561.7 405.1L561.8 404.0L562.0 405.8" stroke="#9400d3" stroke-width="1" fill="none" stroke-linejoin="round"/>
<path d="M96 419.5h7M99.5 416v7M96 421.5h7M99.5 418v7M96 418.5h7M99.5 415v7M96 417.5h7M99.5 414v7M96 420.5h7M99.5 417v7M96 422.5h7M99.5 419v7M96 423.5h7M99.5 420v7M97 418.5h7M100.5 415v7M97 419.5h7M100.5 416v7M97 422.5h7M100.5 419v7M97 417.5h7M100.5 414v7M97 421.5h7M100.5 418v7M97 423.5h7M100.5 420v7M97 420.5h7M100.5 417v7M98 423.5h7M101.5 420v7M98 417.5h7M101.5 414v7M98 422.5h7M101.5 419v7M98 420.5h7M101.5 417v7M98 418.5h7M101.5 415v7M98 421.5h7M101.5 418v7M99 420.5h7M102.5 417v7M99 421.5h7M102.5 418v7M99 422.5h7M102.5 419v7M99 423.5h7M102.5 420v7M99 418.5h7M102.5 415v7M99 417.5h7M102.5 414v7M99 419.5h7M102.5 416v7M99 424.5h7M102.5 421v7M100 421.5h7M103.5 418v7M100 424.5h7M103.5 421v7M100 419.5h7M103.5 416v7M100 423.5h7M103.5 420v7M100 418.5h7M103.5 415v7M100 425.5h7M103.5 422v7M100 422.5h7M103.5 419v7M100 420.5h7M103.5 417v7M101 423.5h7M104.5 420v7M101 422.5h7M104.5 419v7M101 420.5h7M104.5 417v7M101 419.5h7M104.5 416v7M101 424.5h7M104.5 421v7M101 418.5h7M104.5 415v7M101 421.5h7M104.5 418v7M102 419.5h7M105.5 416v7M102 420.5h7M105.5 417v7M102 423.5h7M105.5 420v7M102 424.5h7M105.5 421v7M102 417.5h7M105.5 414v7M102 421.5h7M105.5 418v7M102 418.5h7M105.5 415v7M102 422.5h7M105.5 419v7M103 420.5h7M106.5 417v7M103 423.5h7M106.5 420v7M103 421.5h7M106.5 418v7M103 418.5h7M106.5 415v7M103 425.5h7M106.5 422v7M104 422.5h7M107.5 419v7M104 423.5h7M107.5 420v7M104 418.5h7M107.5 415v7M104 419.5h7M107.5 416v7M104 420.5h7M107.5 417v7M104 421.5h7M107.5 418v7M104 417.5h7M107.5 414v7M105 417.5h7M108.5 414v7M105 423.5h7M108.5 420v7M105 421.5h7M108.5 418v7M105 420.5h7M108.5 417v7M105 424.5h7M108.5 421v7M105 419.5h7M108.5 416v7M105 418.5h7M108.5 415v7M106 418.5h7M109.5 415v7M106 420.5h7M109.5 417v7M106 424.5h7M109.5 421v7M106 421.5h7M109.5 418v7M106 419.5h7M109.5 416v7M106 417.5h7M109.5 414v7M106 415.5h7M109.5 412v7M106 422.5h7M109.5 419v7M106 423.5h7M109.5 420v7M107 423.5h7M110.5 420v7M107 424.5h7M110.5 421v7M107 422.5h7M110.5 419v7M107 417.5h7M110.5 414v7M107 421.5h7M110.5 418v7M107 416.5h7M110.5 413v7M107 419.5h7M110.5 416v7M108 421.5h7M111.5 418v7M108 419.5h7M111.5 416v7M108 418.5h7M111.5 415v7M108 422.5h7M111.5 419v7M108 420.5h7M111.5 417v7M108 417.5h7M111.5 414v7M108 423.5h7M111.5 420v7M109 415.5h7M112.5 412v7M109 420.5h7M112.5 417v7M109 418.5h7M112.5 415v7M109 425.5h7M112.5 422v7M109 423.5h7M112.5 420v7M109 419.5h7M112.5 416v7M109 416.5h7M112.5 413v7M109 421.5h7M112.5 418v7M110 421.5h7M113.5 418v7M110 417.5h7M113.5 414v7M110 422.5h7M113.5 419v7M110 418.5h7M113.5 415v7M110 423.5h7M113.5 420v7M110 419.5h7M113.5 416v7M110 420.5h7M113.5 417v7M111 416.5h7M114.5 413v7M111 419.5h7M114.5 416v7M111 422.5h7M114.5 419v7M111 412.5h7M114.5 409v7M111 413.5h7M114.5 410v7M112 412.5h7M115.5 409v7M112 411.5h7M115.5 408v7M113 412.5h7M116.5 409v7M113 411.5h7M116.5 408v7M113 413.5h7M116.5 410v7M114 412.5h7M117.5 409v7M114 411.5h7M117.5 408v7M115 411.5h7M118.5 408v7M115 412.5h7M118.5 409v7M116 412.5h7M119.5 409v7M116 413.5h7M119.5 410v7M116 411.5h7M119.5 408v7M117 412.5h7M120.5 409v7M117 413.5h7M120.5 410v7M117 411.5h7M120.5 408v7M118 411.5h7M121.5 408v7M118 412.5h7M121.5 409v7M118 410.5h7M121.5 407v7M119 412.5h7M122.5 409v7M119 411.5h7M122.5 408v7M119 410.5h7M122.5 407v7M120 411.5h7M123.5 408v7M120 409.5h7M123.5 406v7M120 412.5h7M123.5 409v7M121 411.5h7M124.5 408v7M121 413.5h7M124.5 410v7M121 410.5h7M124.5 407v7M122 410.5h7M125.5 407v7M122 411.5h7M125.5 408v7M122 413.5h7M125.5 410v7M123 411.5h7M126.5 408v7M123 410.5h7M126.5 407v7M124 411.5h7M127.5 408v7M124 412.5h7M127.5 409v7M124 410.5h7M127.5 407v7M125 412.5h7M128.5 409v7M125 409.5h7M128.5 406v7M125 411.5h7M128.5 408v7M125 410.5h7M128.5 407v7M126 410.5h7M129.5 407v7M126 411.5h7M129.5 408v7M127 411.5h7M130.5 408v7M127 410.5h7M130.5 407v7M127 412.5h7M130.5 409v7M128 413.5h7M131.5 410v7M128 409.5h7M131.5 406v7M128 411.5h7M131.5 408v7M128 410.5h7M131.5 407v7M128 412.5h7M131.5 409v7M129 412.5h7M132.5 409v7M129 411.5h7M132.5 408v7M130 411.5h7M133.5 408v7M130 412.5h7M133.5 409v7M130 410.5h7M133.5 407v7M131 410.5h7M134.5 407v7M131 411.5h7M134.5 408v7M131 409.5h7M134.5 406v7M132 411.5h7M135.5 408v7M132 410.5h7M135.5 407v7M132 412.5h7M135.5 409v7M133 412.5h7M136.5 409v7M133 411.5h7M136.5 408v7M133 409.5h7M136.5 406v7M133 410.5h7M136.5 407v7M133 413.5h7M136.5 410v7M134 409.5h7M137.5 406v7M134 412.5h7M137.5 409v7M134 413.5h7M137.5 410v7M134 411.5h7M137.5 408v7M134 410.5h7M137.5 407v7M135 409.5h7M138.5 406v7M135 411.5h7M138.5 408v7M135 410.5h7M138.5 407v7M135 412.5h7M138.5 409v7M135 413.5h7M138.5 410v7M136 410.5h7M139.5 407v7M136 409.5h7M139.5 406v7M136 412.5h7M139.5 409v7M136 411.5h7M139.5 408v7M137 410.5h7M140.5 407v7M137 411.5h7M140.5 408v7M137 409.5h7M140.5 406v7M138 411.5h7M141.5 408v7M138 412.5h7M141.5 409v7M138 410.5h7M141.5 407v7M139 411.5h7M142.5 408v7M139 412.5h7M142.5 409v7M139 410.5h7M142.5 407v7M140 411.5h7M143.5 408v7M140 413.5h7M143.5 410v7M140 410.5h7M143.5 407v7M140 412.5h7M143.5 409v7M141 410.5h7M144.5 407v7M141 413.5h7M144.5 410v7M141 411.5h7M144.5 408v7M142 411.5h7M145.5 408v7M142 410.5h7M145.5 407v7M142 409.5h7M145.5 406v7M142 412.5h7M145.5 409v7M143 411.5h7M146.5 408v7M143 409.5h7M146.5 406v7M143 410.5h7M146.5 407v7M144 410.5h7M147.5 407v7M144 411.5h7M147.5 408v7M144 412.5h7M147.5 409v7M145 410.5h7M148.5 407v7M145 412.5h7M148.5 409v7M145 411.5h7M148.5 408v7M145 409.5h7M148.5 406v7M145 413.5h7M148.5 410v7M146 411.5h7M149.5 408v7M146 410.5h7M149.5 407v7M146 412.5h7M149.5 409v7M147 432.5h7M150.5 429v7M147 430.5h7M150.5 427v7M148 431.5h7M151.5 428v7M148 429.5h7M151.5 426v7M148 432.5h7M151.5 429v7M148 430.5h7M151.5 427v7M149 431.5h7M152.5 428v7M149 432.5h7M152.5 429v7M149 430.5h7M152.5 427v7M149 433.5h7M152.5 430v7M149 429.5h7M152.5 426v7M150 431.5h7M153.5 428v7M150 430.5h7M153.5 427v7M150 428.5h7M153.5 425v7M150 432.5h7M153.5 429v7M151 432.5h7M154.5 429v7M151 431.5h7M154.5 428v7M151 429.5h7M154.5 426v7M152 431.5h7M155.5 428v7M152 430.5h7M155.5 427v7M152 432.5h7M155.5 429v7M153 430.5h7M156.5 427v7M153 431.5h7M156.5 428v7M153 429.5h7M156.5 426v7M154 429.5h7M157.5 426v7M154 431.5h7M157.5 428v7M154 432.5h7M157.5 429v7M154 430.5h7M157.5 427v7M155 429.5h7M158.5 426v7M155 430.5h7M158.5 427v7M155 431.5h7M158.5 428v7M156 430.5h7M159.5 427v7M156 431.5h7M159.5 428v7M156 432.5h7M159.5 429v7M156 428.5h7M159.5 425v7M156 429.5h7M159.5 426v7M157 430.5h7M160.5 427v7M157 431.5h7M160.5 428v7M157 429.5h7M160.5 426v7M157 432.5h7M160.5 429v7M157 433.5h7M160.5 430v7M158 430.5h7M161.5 427v7M158 432.5h7M161.5 429v7M158 431.5h7M161.5 428v7M159 431.5h7M162.5 428v7M159 429.5h7M162.5 426v7M159 433.5h7M162.5 430v7M159 430.5h7M162.5 427v7M160 430.5h7M163.5 427v7M160 432.5h7M163.5 429v7M160 431.5h7M163.5 428v7M161 433.5h7M164.5 430v7M161 431.5h7M164.5 428v7M161 432.5h7M164.5 429v7M161 427.5h7M164.5 424v7M161 430.5h7M164.5 427v7M162 432.5h7M165.5 429v7M162 429.5h7M165.5 426v7M162 431.5h7M165.5 428v7M162 428.5h7M165.5 425v7M162 430.5h7M165.5 427v7M163 430.5h7M166.5 427v7M163 431.5h7M166.5 428v7M163 429.5h7M166.5 426v7M163 433.5h7M166.5 430v7M164 429.5h7M167.5 426v7M164 431.5h7M167.5 428v7M164 430.5h7M167.5 427v7M164 432.5h7M167.5 429v7M164 433.5h7M167.5 430v7M165 431.5h7M168.5 428v7M165 430.5h7M168.5 427v7M165 429.5h7M168.5 426v7M165 432.5h7M168.5 429v7M166 429.5h7M169.5 426v7M166 428.5h7M169.5 425v7M166 430.5h7M169.5 427v7M166 431.5h7M169.5 428v7M166 432.5h7M169.5 429v7M167 430.5h7M170.5 427v7M167 431.5h7M170.5 428v7M167 429.5h7M170.5 426v7M168 430.5h7M171.5 427v7M168 431.5h7M171.5 428v7M168 432.5h7M171.5 429v7M169 432.5h7M172.5 429v7M169 428.5h7M172.5 425v7M169 431.5h7M172.5 428v7M169 430.5h7M172.5 427v7M170 430.5h7M173.5 427v7M170 427.5h7M173.5 424v7M170 433.5h7M173.5 430v7M170 431.5h7M173.5 428v7M171 430.5h7M174.5 427v7M171 428.5h7M174.5 425v7M171 429.5h7M174.5 426v7M171 433.5h7M174.5 430v7M171 427.5h7M174.5 424v7M172 431.5h7M175.5 428v7M172 430.5h7M175.5 427v7M172 432.5h7M175.5 429v7M172 429.5h7M175.5 426v7M173 430.5h7M176.5 427v7M173 432.5h7M176.5 429v7M173 433.5h7M176.5 430v7M174 430.5h7M177.5 427v7M174 429.5h7M177.5 426v7M174 432.5h7M177.5 429v7M174 431.5h7M177.5 428v7M174 428.5h7M177.5 425v7M175 431.5h7M178.5 428v7M175 428.5h7M178.5 425v7M175 432.5h7M178.5 429v7M175 429.5h7M178.5 426v7M175 430.5h7M178.5 427v7M176 429.5h7M179.5 426v7M176 430.5h7M179.5 427v7M176 432.5h7M179.5 429v7M176 428.5h7M179.5 425v7M177 429.5h7M180.5 426v7M177 431.5h7M180.5 428v7M177 432.5h7M180.5 429v7M177 430.5h7M180.5 427v7M178 430.5h7M181.5 427v7M178 434.5h7M181.5 431v7M178 432.5h7M181.5 429v7M179 430.5h7M182.5 427v7M179 431.5h7M182.5 428v7M179 428.5h7M182.5 425v7M180 430.5h7M183.5 427v7M180 432.5h7M183.5 429v7M180 429.5h7M183.5 426v7M180 433.5h7M183.5 430v7M181 431.5h7M184.5 428v7M181 429.5h7M184.5 426v7M181 430.5h7M184.5 427v7M182 430.5h7M185.5 427v7M182 431.5h7M185.5 428v7M182 433.5h7M185.5 430v7M182 432.5h7M185.5 429v7M182 429.5h7M185.5 426v7M183 433.5h7M186.5 430v7M183 432.5h7M186.5 429v7M183 429.5h7M186.5 426v7M183 431.5h7M186.5 428v7M183 430.5h7M186.5 427v7M184 432.5h7M187.5 429v7M184 431.5h7M187.5 428v7M184 430.5h7M187.5 427v7M184 429.5h7M187.5 426v7M184 433.5h7M187.5 430v7M185 431.5h7M188.5 428v7M185 428.5h7M188.5 425v7M185 433.5h7M188.5 430v7M185 430.5h7M188.5 427v7M186 431.5h7M189.5 428v7M186 432.5h7M189.5 429v7M186 430.5h7M189.5 427v7M186 429.5h7M189.5 426v7M187 430.5h7M190.5 427v7M187 429.5h7M190.5 426v7M187 431.5h7M190.5 428v7M187 432.5h7M190.5 429v7M188 429.5h7M191.5 426v7M188 433.5h7M191.5 430v7M188 431.5h7M191.5 428v7M188 430.5h7M191.5 427v7M188 432.5h7M191.5 429v7M189 432.5h7M192.5 429v7M189 430.5h7M192.5 427v7M189 433.5h7M192.5 430v7M189 431.5h7M192.5 428v7M189 429.5h7M192.5 426v7M189 434.5h7M192.5 431v7M190 431.5h7M193.5 428v7M190 432.5h7M193.5 429v7M190 430.5h7M193.5 427v7M191 431.5h7M194.5 428v7M191 430.5h7M194.5 427v7M191 429.5h7M194.5 426v7M192 430.5h7M195.5 427v7M192 431.5h7M195.5 428v7M192 428.5h7M195.5 425v7M192 432.5h7M195.5 429v7M193 431.5h7M196.5 428v7M193 432.5h7M196.5 429v7M193 430.5h7M196.5 427v7M194 430.5h7M197.5 427v7M194 431.5h7M197.5 428v7M195 430.5h7M198.5 427v7M195 432.5h7M198.5 429v7M195 431.5h7M198.5 428v7M196 431.5h7M199.5 428v7M196 429.5h7M199.5 426v7M196 432.5h7M199.5 429v7M196 430.5h7M199.5 427v7M197 432.5h7M200.5 429v7M197 431.5h7M200.5 428v7M197 429.5h7M200.5 426v7M197 430.5h7M200.5 427v7M198 429.5h7M201.5 426v7M198 431.5h7M201.5 428v7M198 432.5h7M201.5 429v7M198 430.5h7M201.5 427v7M199 429.5h7M202.5 426v7M199 431.5h7M202.5 428v7M199 430.5h7M202.5 427v7M199 432.5h7M202.5 429v7M199 428.5h7M202.5 425v7M200 429.5h7M203.5 426v7M200 431.5h7M203.5 428v7M200 428.5h7M203.5 425v7M201 430.5h7M204.5 427v7M201 432.5h7M204.5 429v7M201 429.5h7M204.5 426v7M201 428.5h7M204.5 425v7M201 427.5h7M204.5 424v7M202 429.5h7M205.5 426v7M202 430.5h7M205.5 427v7M202 432.5h7M205.5 429v7M202 431.5h7M205.5 428v7M203 432.5h7M206.5 429v7M203 430.5h7M206.5 427v7M203 431.5h7M206.5 428v7M204 432.5h7M207.5 429v7M204 428.5h7M207.5 425v7M204 431.5h7M207.5 428v7M204 433.5h7M207.5 430v7M204 429.5h7M207.5 426v7M205 432.5h7M208.5 429v7M205 431.5h7M208.5 428v7M205 430.5h7M208.5 427v7M205 429.5h7M208.5 426v7M206 430.5h7M209.5 427v7M206 431.5h7M209.5 428v7M206 428.5h7M209.5 425v7M207 429.5h7M210.5 426v7M207 433.5h7M210.5 430v7M207 432.5h7M210.5 429v7M207 431.5h7M210.5 428v7M207 428.5h7M210.5 425v7M208 430.5h7M211.5 427v7M208 433.5h7M211.5 430v7M208 428.5h7M211.5 425v7M208 429.5h7M211.5 426v7M208 431.5h7M211.5 428v7M208 432.5h7M211.5 429v7M209 431.5h7M212.5 428v7M209 430.5h7M212.5 427v7M209 429.5h7M212.5 426v7M209 432.5h7M212.5 429v7M210 431.5h7M213.5 428v7M210 432.5h7M213.5 429v7M210 430.5h7M213.5 427v7M211 428.5h7M214.5 425v7M211 433.5h7M214.5 430v7M211 430.5h7M214.5 427v7M211 431.5h7M214.5 428v7M212 431.5h7M215.5 428v7M212 430.5h7M215.5 427v7M212 432.5h7M215.5 429v7M212 433.5h7M215.5 430v7M213 432.5h7M216.5 429v7M213 431.5h7M216.5 428v7M213 430.5h7M216.5 427v7M213 429.5h7M216.5 426v7M214 432.5h7M217.5 429v7M214 431.5h7M217.5 428v7M214 429.5h7M217.5 426v7M214 430.5h7M217.5 427v7M215 431.5h7M218.5 428v7M215 430.5h7M218.5 427v7M215 429.5h7M218.5 426v7M215 432.5h7M218.5 429v7M216 431.5h7M219.5 428v7M216 433.5h7M219.5 430v7M216 430.5h7M219.5 427v7M217 429.5h7M220.5 426v7M217 430.5h7M220.5 427v7M217 431.5h7M220.5 428v7M217 432.5h7M220.5 429v7M218 431.5h7M221.5 428v7M218 430.5h7M221.5 427v7M218 432.5h7M221.5 429v7M219 431.5h7M222.5 428v7M219 430.5h7M222.5 427v7M219 429.5h7M222.5 426v7M219 433.5h7M222.5 430v7M219 432.5h7M222.5 429v7M220 431.5h7M223.5 428v7M220 432.5h7M223.5 429v7M220 428.5h7M223.5 425v7M220 430.5h7M223.5 427v7M221 430.5h7M224.5 427v7M221 432.5h7M224.5 429v7M221 431.5h7M224.5 428v7M222 430.5h7M225.5 427v7M222 429.5h7M225.5 426v7M222 431.5h7M225.5 428v7M222 432.5h7M225.5 429v7M223 431.5h7M226.5 428v7M223 432.5h7M226.5 429v7M223 430.5h7M226.5 427v7M224 431.5h7M227.5 428v7M224 429.5h7M227.5 426v7M224 430.5h7M227.5 427v7M224 428.5h7M227.5 425v7M224 432.5h7M227.5 429v7M225 430.5h7M228.5 427v7M225 431.5h7M228.5 428v7M225 429.5h7M228.5 426v7M226 430.5h7M229.5 427v7M226 432.5h7M229.5 429v7M226 431.5h7M229.5 428v7M226 433.5h7M229.5 430v7M227 430.5h7M230.5 427v7M227 429.5h7M230.5 426v7M227 432.5h7M230.5 429v7M227 428.5h7M230.5 425v7M228 431.5h7M231.5 428v7M228 429.5h7M231.5 426v7M228 432.5h7M231.5 429v7M228 430.5h7M231.5 427v7M229 431.5h7M232.5 428v7M229 432.5h7M232.5 429v7M229 430.5h7M232.5 427v7M229 428.5h7M232.5 425v7M230 432.5h7M233.5 429v7M230 430.5h7M233.5 427v7M230 431.5h7M233.5 428v7M231 430.5h7M234.5 427v7M231 429.5h7M234.5 426v7M231 432.5h7M234.5 429v7M231 431.5h7M234.5 428v7M232 428.5h7M235.5 425v7M232 430.5h7M235.5 427v7M232 432.5h7M235.5 429v7M232 431.5h7M235.5 428v7M233 431.5h7M236.5 428v7M233 432.5h7M236.5 429v7M233 430.5h7M236.5 427v7M233 429.5h7M236.5 426v7M234 428.5h7M237.5 425v7M234 430.5h7M237.5 427v7M234 429.5h7M237.5 426v7M234 431.5h7M237.5 428v7M235 430.5h7M238.5 427v7M235 429.5h7M238.5 426v7M235 431.5h7M238.5 428v7M235 432.5h7M238.5 429v7M236 431.5h7M239.5 428v7M236 430.5h7M239.5 427v7M236 432.5h7M239.5 429v7M236 428.5h7M239.5 425v7M236 429.5h7M239.5 426v7M237 430.5h7M240.5 427v7M237 431.5h7M240.5 428v7M237 432.5h7M240.5 429v7M237 429.5h7M240.5 426v7M238 433.5h7M241.5 430v7M238 431.5h7M241.5 428v7M238 430.5h7M241.5 427v7M239 431.5h7M242.5 428v7M239 430.5h7M242.5 427v7M239 429.5h7M242.5 426v7M239 432.5h7M242.5 429v7M240 431.5h7M243.5 428v7M240 430.5h7M243.5 427v7M240 429.5h7M243.5 426v7M240 428.5h7M243.5 425v7M241 431.5h7M244.5 428v7M241 428.5h7M244.5 425v7M241 432.5h7M244.5 429v7M241 430.5h7M244.5 427v7M242 432.5h7M245.5 429v7M242 431.5h7M245.5 428v7M242 430.5h7M245.5 427v7M243 430.5h7M246.5 427v7M243 431.5h7M246.5 428v7M243 429.5h7M246.5 426v7M244 429.5h7M247.5 426v7M244 431.5h7M247.5 428v7M244 428.5h7M247.5 425v7M244 430.5h7M247.5 427v7M245 431.5h7M248.5 428v7M245 428.5h7M248.5 425v7M245 430.5h7M248.5 427v7M246 431.5h7M249.5 428v7M246 432.5h7M249.5 429v7M246 430.5h7M249.5 427v7M246 429.5h7M249.5 426v7M247 428.5h7M250.5 425v7M247 432.5h7M250.5 429v7M247 431.5h7M250.5 428v7M247 429.5h7M250.5 426v7M247 433.5h7M250.5 430v7M248 432.5h7M251.5 429v7M248 431.5h7M251.5 428v7M248 428.5h7M251.5 425v7M248 429.5h7M251.5 426v7M248 430.5h7M251.5 427v7M249 431.5h7M252.5 428v7M249 433.5h7M252.5 430v7M249 430.5h7M252.5 427v7M250 431.5h7M253.5 428v7M250 429.5h7M253.5 426v7M250 433.5h7M253.5 430v7M250 430.5h7M253.5 427v7M251 434.5h7M254.5 431v7M251 431.5h7M254.5 428v7M251 432.5h7M254.5 429v7M251 430.5h7M254.5 427v7M252 431.5h7M255.5 428v7M252 430.5h7M255.5 427v7M252 432.5h7M255.5 429v7M252 429.5h7M255.5 426v7M253 429.5h7M256.5 426v7M253 430.5h7M256.5 427v7M253 432.5h7M256.5 429v7M253 428.5h7M256.5 425v7M253 431.5h7M256.5 428v7M254 431.5h7M257.5 428v7M254 430.5h7M257.5 427v7M254 432.5h7M257.5 429v7M255 429.5h7M258.5 426v7M255 432.5h7M258.5 429v7M255 431.5h7M258.5 428v7M255 428.5h7M258.5 425v7M255 430.5h7M258.5 427v7M256 430.5h7M259.5 427v7M256 429.5h7M259.5 426v7M256 433.5h7M259.5 430v7M256 432.5h7M259.5 429v7M257 431.5h7M260.5 428v7M257 430.5h7M260.5 427v7M257 429.5h7M260.5 426v7M258 431.5h7M261.5 428v7M258 430.5h7M261.5 427v7M258 429.5h7M261.5 426v7M259 430.5h7M262.5 427v7M259 431.5h7M262.5 428v7M259 429.5h7M262.5 426v7M260 429.5h7M263.5 426v7M260 431.5h7M263.5 428v7M261 431.5h7M264.5 428v7M261 432.5h7M264.5 429v7M261 430.5h7M264.5 427v7M261 429.5h7M264.5 426v7M262 431.5h7M265.5 428v7M262 429.5h7M265.5 426v7M262 430.5h7M265.5 427v7M263 431.5h7M266.5 428v7M263 432.5h7M266.5 429v7M264 433.5h7M267.5 430v7M264 430.5h7M267.5 427v7M264 434.5h7M267.5 431v7M264 432.5h7M267.5 429v7M264 431.5h7M267.5 428v7M264 429.5h7M267.5 426v7M265 432.5h7M268.5 429v7M265 429.5h7M268.5 426v7M265 431.5h7M268.5 428v7M265 430.5h7M268.5 427v7M266 431.5h7M269.5 428v7M266 430.5h7M269.5 427v7M266 432.5h7M269.5 429v7M266 428.5h7M269.5 425v7M267 432.5h7M270.5 429v7M267 431.5h7M270.5 428v7M267 430.5h7M270.5 427v7M267 429.5h7M270.5 426v7M268 430.5h7M271.5 427v7M268 431.5h7M271.5 428v7M268 429.5h7M271.5 426v7M268 433.5h7M271.5 430v7M269 431.5h7M272.5 428v7M269 430.5h7M272.5 427v7M269 428.5h7M272.5 425v7M270 431.5h7M273.5 428v7M270 432.5h7M273.5 429v7M270 430.5h7M273.5 427v7M270 429.5h7M273.5 426v7M271 429.5h7M274.5 426v7M271 428.5h7M274.5 425v7M271 431.5h7M274.5 428v7M271 430.5h7M274.5 427v7M272 429.5h7M275.5 426v7M272 433.5h7M275.5 430v7M272 430.5h7M275.5 427v7M272 432.5h7M275.5 429v7M272 431.5h7M275.5 428v7M273 429.5h7M276.5 426v7M273 431.5h7M276.5 428v7M273 430.5h7M276.5 427v7M273 432.5h7M276.5 429v7M274 431.5h7M277.5 428v7M274 429.5h7M277.5 426v7M274 432.5h7M277.5 429v7M275 431.5h7M278.5 428v7M275 433.5h7M278.5 430v7M275 429.5h7M278.5 426v7M275 430.5h7M278.5 427v7M276 431.5h7M279.5 428v7M276 430.5h7M279.5 427v7M276 429.5h7M279.5 426v7M276 432.5h7M279.5 429v7M277 431.5h7M280.5 428v7M277 429.5h7M280.5 426v7M277 434.5h7M280.5 431v7M277 430.5h7M280.5 427v7M278 431.5h7M281.5 428v7M278 433.5h7M281.5 430v7M278 430.5h7M281.5 427v7M278 428.5h7M281.5 425v7M278 432.5h7M281.5 429v7M279 432.5h7M282.5 429v7M279 430.5h7M282.5 427v7M279 428.5h7M282.5 425v7M279 429.5h7M282.5 426v7M279 431.5h7M282.5 428v7M280 432.5h7M283.5 429v7M280 430.5h7M283.5 427v7M280 431.5h7M283.5 428v7M280 428.5h7M283.5 425v7M281 429.5h7M284.5 426v7M281 432.5h7M284.5 429v7M281 433.5h7M284.5 430v7M281 430.5h7M284.5 427v7M282 428.5h7M285.5 425v7M282 429.5h7M285.5 426v7M282 430.5h7M285.5 427v7M282 432.5h7M285.5 429v7M282 431.5h7M285.5 428v7M283 429.5h7M286.5 426v7M283 433.5h7M286.5 430v7M283 431.5h7M286.5 428v7M283 432.5h7M286.5 429v7M283 430.5h7M286.5 427v7M284 430.5h7M287.5 427v7M284 431.5h7M287.5 428v7M284 428.5h7M287.5 425v7M284 432.5h7M287.5 429v7M285 429.5h7M288.5 426v7M285 432.5h7M288.5 429v7M285 431.5h7M288.5 428v7M286 397.5h7M289.5 394v7M286 394.5h7M289.5 391v7M286 395.5h7M289.5 392v7M286 393.5h7M289.5 390v7M286 399.5h7M289.5 396v7M287 398.5h7M290.5 395v7M287 394.5h7M290.5 391v7M287 395.5h7M290.5 392v7M287 396.5h7M290.5 393v7M287 397.5h7M290.5 394v7M288 396.5h7M291.5 393v7M288 395.5h7M291.5 392v7M288 398.5h7M291.5 395v7M288 393.5h7M291.5 390v7M288 397.5h7M291.5 394v7M289 394.5h7M292.5 391v7M289 396.5h7M292.5 393v7M289 395.5h7M292.5 392v7M289 399.5h7M292.5 396v7M289 397.5h7M292.5 394v7M290 395.5h7M293.5 392v7M290 397.5h7M293.5 394v7M290 396.5h7M293.5 393v7M290 393.5h7M293.5 390v7M291 396.5h7M294.5 393v7M291 394.5h7M294.5 391v7M291 395.5h7M294.5 392v7M291 398.5h7M294.5 395v7M291 397.5h7M294.5 394v7M292 396.5h7M295.5 393v7M292 397.5h7M295.5 394v7M292 394.5h7M295.5 391v7M293 398.5h7M296.5 395v7M293 395.5h7M296.5 392v7M293 396.5h7M296.5 393v7M293 394.5h7M296.5 391v7M293 397.5h7M296.5 394v7M294 393.5h7M297.5 390v7M294 396.5h7M297.5 393v7M294 394.5h7M297.5 391v7M294 397.5h7M297.5 394v7M295 393.5h7M298.5 390v7M295 397.5h7M298.5 394v7M295 396.5h7M298.5 393v7M295 394.5h7M298.5 391v7M296 393.5h7M299.5 390v7M296 396.5h7M299.5 393v7M296 395.5h7M299.5 392v7M296 398.5h7M299.5 395v7M296 397.5h7M299.5 394v7M297 396.5h7M300.5 393v7M297 395.5h7M300.5 392v7M297 398.5h7M300.5 395v7M297 394.5h7M300.5 391v7M297 397.5h7M300.5 394v7M298 394.5h7M301.5 391v7M298 396.5h7M301.5 393v7M298 398.5h7M301.5 395v7M299 394.5h7M302.5 391v7M299 396.5h7M302.5 393v7M299 395.5h7M302.5 392v7M299 397.5h7M302.5 394v7M299 398.5h7M302.5 395v7M300 394.5h7M303.5 391v7M300 395.5h7M303.5 392v7M300 399.5h7M303.5 396v7M300 397.5h7M303.5 394v7M300 398.5h7M303.5 395v7M300 396.5h7M303.5 393v7M301 397.5h7M304.5 394v7M301 396.5h7M304.5 393v7M301 394.5h7M304.5 391v7M301 398.5h7M304.5 395v7M301 393.5h7M304.5 390v7M302 393.5h7M305.5 390v7M302 396.5h7M305.5 393v7M302 394.5h7M305.5 391v7M302 395.5h7M305.5 392v7M302 399.5h7M305.5 396v7M302 397.5h7M305.5 394v7M303 397.5h7M306.5 394v7M303 393.5h7M306.5 390v7M303 394.5h7M306.5 391v7M303 396.5h7M306.5 393v7M303 395.5h7M306.5 392v7M304 394.5h7M307.5 391v7M304 396.5h7M307.5 393v7M304 397.5h7M307.5 394v7M304 395.5h7M307.5 392v7M305 396.5h7M308.5 393v7M305 395.5h7M308.5 392v7M305 394.5h7M308.5 391v7M306 396.5h7M309.5 393v7M306 397.5h7M309.5 394v7M306 394.5h7M309.5 391v7M306 398.5h7M309.5 395v7M306 395.5h7M309.5 392v7M306 399.5h7M309.5 396v7M307 395.5h7M310.5 392v7M307 396.5h7M310.5 393v7M307 398.5h7M310.5 395v7M307 397.5h7M310.5 394v7M308 398.5h7M311.5 395v7M308 394.5h7M311.5 391v7M308 396.5h7M311.5 393v7M309 398.5h7M312.5 395v7M309 395.5h7M312.5 392v7M309 396.5h7M312.5 393v7M310 396.5h7M313.5 393v7M310 395.5h7M313.5 392v7M310 394.5h7M313.5 391v7M310 397.5h7M313.5 394v7M311 396.5h7M314.5 393v7M311 394.5h7M314.5 391v7M311 397.5h7M314.5 394v7M311 395.5h7M314.5 392v7M312 397.5h7M315.5 394v7M312 398.5h7M315.5 395v7M312 396.5h7M315.5 393v7M312 394.5h7M315.5 391v7M312 395.5h7M315.5 392v7M313 395.5h7M316.5 392v7M313 398.5h7M316.5 395v7M313 396.5h7M316.5 393v7M313 397.5h7M316.5 394v7M314 394.5h7M317.5 391v7M314 396.5h7M317.5 393v7M314 395.5h7M317.5 392v7M314 398.5h7M317.5 395v7M314 397.5h7M317.5 394v7M315 396.5h7M318.5 393v7M315 394.5h7M318.5 391v7M315 398.5h7M318.5 395v7M315 397.5h7M318.5 394v7M315 395.5h7M318.5 392v7M316 396.5h7M319.5 393v7M316 397.5h7M319.5 394v7M316 398.5h7M319.5 395v7M317 396.5h7M320.5 393v7M317 397.5h7M320.5 394v7M317 395.5h7M320.5 392v7M318 395.5h7M321.5 392v7M318 396.5h7M321.5 393v7M318 398.5h7M321.5 395v7M319 397.5h7M322.5 394v7M319 396.5h7M322.5 393v7M319 398.5h7M322.5 395v7M319 395.5h7M322.5 392v7M320 397.5h7M323.5 394v7M320 396.5h7M323.5 393v7M320 395.5h7M323.5 392v7M321 396.5h7M324.5 393v7M321 397.5h7M324.5 394v7M321 395.5h7M324.5 392v7M322 396.5h7M325.5 393v7M322 397.5h7M325.5 394v7M322 398.5h7M325.5 395v7M323 397.5h7M326.5 394v7M323 396.5h7M326.5 393v7M323 398.5h7M326.5 395v7M324 397.5h7M327.5 394v7M324 395.5h7M327.5 392v7M324 396.5h7M327.5 393v7M324 398.5h7M327.5 395v7M325 395.5h7M328.5 392v7M325 398.5h7M328.5 395v7M325 397.5h7M328.5 394v7M325 394.5h7M328.5 391v7M325 396.5h7M328.5 393v7M326 396.5h7M329.5 393v7M326 397.5h7M329.5 394v7M326 395.5h7M329.5 392v7M327 398.5h7M330.5 395v7M327 395.5h7M330.5 392v7M327 396.5h7M330.5 393v7M327 397.5h7M330.5 394v7M327 394.5h7M330.5 391v7M328 397.5h7M331.5 394v7M328 396.5h7M331.5 393v7M328 398.5h7M331.5 395v7M328 395.5h7M331.5 392v7M329 395.5h7M332.5 392v7M329 397.5h7M332.5 394v7M329 394.5h7M332.5 391v7M329 398.5h7M332.5 395v7M329 396.5h7M332.5 393v7M330 395.5h7M333.5 392v7M330 396.5h7M333.5 393v7M330 397.5h7M333.5 394v7M331 396.5h7M334.5 393v7M331 397.5h7M334.5 394v7M331 394.5h7M334.5 391v7M331 395.5h7M334.5 392v7M332 397.5h7M335.5 394v7M332 396.5h7M335.5 393v7M332 395.5h7M335.5 392v7M332 394.5h7M335.5 391v7M333 398.5h7M336.5 395v7M333 395.5h7M336.5 392v7M333 397.5h7M336.5 394v7M333 396.5h7M336.5 393v7M334 396.5h7M337.5 393v7M334 397.5h7M337.5 394v7M335 397.5h7M338.5 394v7M335 396.5h7M338.5 393v7M335 395.5h7M338.5 392v7M336 404.5h7M339.5 401v7M336 406.5h7M339.5 403v7M337 404.5h7M340.5 401v7M337 405.5h7M340.5 402v7M337 403.5h7M340.5 400v7M337 406.5h7M340.5 403v7M338 405.5h7M341.5 402v7M338 404.5h7M341.5 401v7M338 403.5h7M341.5 400v7M339 403.5h7M342.5 400v7M339 404.5h7M342.5 401v7M339 405.5h7M342.5 402v7M339 406.5h7M342.5 403v7M340 404.5h7M343.5 401v7M340 405.5h7M343.5 402v7M341 404.5h7M344.5 401v7M341 405.5h7M344.5 402v7M341 406.5h7M344.5 403v7M342 405.5h7M345.5 402v7M342 406.5h7M345.5 403v7M343 405.5h7M346.5 402v7M343 404.5h7M346.5 401v7M344 405.5h7M347.5 402v7M344 406.5h7M347.5 403v7M344 403.5h7M347.5 400v7M344 404.5h7M347.5 401v7M345 406.5h7M348.5 403v7M345 405.5h7M348.5 402v7M345 404.5h7M348.5 401v7M346 404.5h7M349.5 401v7M346 405.5h7M349.5 402v7M346 406.5h7M349.5 403v7M346 403.5h7M349.5 400v7M347 405.5h7M350.5 402v7M347 407.5h7M350.5 404v7M347 404.5h7M350.5 401v7M347 403.5h7M350.5 400v7M348 404.5h7M351.5 401v7M348 406.5h7M351.5 403v7M348 403.5h7M351.5 400v7M348 407.5h7M351.5 404v7M348 405.5h7M351.5 402v7M349 405.5h7M352.5 402v7M349 406.5h7M352.5 403v7M349 404.5h7M352.5 401v7M350 404.5h7M353.5 401v7M350 406.5h7M353.5 403v7M350 403.5h7M353.5 400v7M351 404.5h7M354.5 401v7M351 406.5h7M354.5 403v7M351 405.5h7M354.5 402v7M352 404.5h7M355.5 401v7M352 405.5h7M355.5 402v7M353 406.5h7M356.5 403v7M353 407.5h7M356.5 404v7M353 405.5h7M356.5 402v7M353 404.5h7M356.5 401v7M353 402.5h7M356.5 399v7M354 405.5h7M357.5 402v7M354 407.5h7M357.5 404v7M354 403.5h7M357.5 400v7M354 404.5h7M357.5 401v7M355 406.5h7M358.5 403v7M355 405.5h7M358.5 402v7M355 403.5h7M358.5 400v7M355 404.5h7M358.5 401v7M356 404.5h7M359.5 401v7M356 407.5h7M359.5 404v7M356 406.5h7M359.5 403v7M356 405.5h7M359.5 402v7M356 403.5h7M359.5 400v7M356 402.5h7M359.5 399v7M357 405.5h7M360.5 402v7M357 404.5h7M360.5 401v7M357 406.5h7M360.5 403v7M357 402.5h7M360.5 399v7M358 405.5h7M361.5 402v7M358 404.5h7M361.5 401v7M358 402.5h7M361.5 399v7M358 406.5h7M361.5 403v7M359 406.5h7M362.5 403v7M359 407.5h7M362.5 404v7M359 404.5h7M362.5 401v7M359 405.5h7M362.5 402v7M359 402.5h7M362.5 399v7M360 406.5h7M363.5 403v7M360 403.5h7M363.5 400v7M360 407.5h7M363.5 404v7M360 405.5h7M363.5 402v7M361 406.5h7M364.5 403v7M361 404.5h7M364.5 401v7M361 405.5h7M364.5 402v7M362 404.5h7M365.5 401v7M362 405.5h7M365.5 402v7M362 403.5h7M365.5 400v7M362 406.5h7M365.5 403v7M363 402.5h7M366.5 399v7M363 404.5h7M366.5 401v7M363 405.5h7M366.5 402v7M363 403.5h7M366.5 400v7M364 405.5h7M367.5 402v7M364 403.5h7M367.5 400v7M364 402.5h7M367.5 399v7M364 404.5h7M367.5 401v7M364 407.5h7M367.5 404v7M365 404.5h7M368.5 401v7M365 405.5h7M368.5 402v7M365 406.5h7M368.5 403v7M365 403.5h7M368.5 400v7M366 404.5h7M369.5 401v7M366 407.5h7M369.5 404v7M366 405.5h7M369.5 402v7M366 406.5h7M369.5 403v7M367 403.5h7M370.5 400v7M367 404.5h7M370.5 401v7M367 407.5h7M370.5 404v7M367 405.5h7M370.5 402v7M368 404.5h7M371.5 401v7M368 406.5h7M371.5 403v7M368 405.5h7M371.5 402v7M369 404.5h7M372.5 401v7M369 405.5h7M372.5 402v7M369 403.5h7M372.5 400v7M370 404.5h7M373.5 401v7M370 403.5h7M373.5 400v7M370 406.5h7M373.5 403v7M370 405.5h7M373.5 402v7M371 405.5h7M374.5 402v7M371 404.5h7M374.5 401v7M371 407.5h7M374.5 404v7M371 406.5h7M374.5 403v7M372 406.5h7M375.5 403v7M372 403.5h7M375.5 400v7M372 405.5h7M375.5 402v7M372 407.5h7M375.5 404v7M372 404.5h7M375.5 401v7M373 405.5h7M376.5 402v7M373 404.5h7M376.5 401v7M373 406.5h7M376.5 403v7M374 405.5h7M377.5 402v7M374 404.5h7M377.5 401v7M374 407.5h7M377.5 404v7M374 403.5h7M377.5 400v7M375 403.5h7M378.5 400v7M375 404.5h7M378.5 401v7M375 405.5h7M378.5 402v7M375 406.5h7M378.5 403v7M376 404.5h7M379.5 401v7M376 403.5h7M379.5 400v7M376 407.5h7M379.5 404v7M376 406.5h7M379.5 403v7M377 405.5h7M380.5 402v7M377 404.5h7M380.5 401v7M377 402.5h7M380.5 399v7M378 405.5h7M381.5 402v7M378 404.5h7M381.5 401v7M378 403.5h7M381.5 400v7M378 407.5h7M381.5 404v7M378 406.5h7M381.5 403v7M379 405.5h7M382.5 402v7M379 404.5h7M382.5 401v7M379 406.5h7M382.5 403v7M380 405.5h7M383.5 402v7M380 404.5h7M383.5 401v7M380 403.5h7M383.5 400v7M381 404.5h7M384.5 401v7M381 405.5h7M384.5 402v7M381 406.5h7M384.5 403v7M382 403.5h7M385.5 400v7M382 405.5h7M385.5 402v7M382 406.5h7M385.5 403v7M382 402.5h7M385.5 399v7M382 404.5h7M385.5 401v7M383 404.5h7M386.5 401v7M383 405.5h7M386.5 402v7M383 403.5h7M386.5 400v7M383 406.5h7M386.5 403v7M384 405.5h7M387.5 402v7M384 403.5h7M387.5 400v7M384 404.5h7M387.5 401v7M385 405.5h7M388.5 402v7M385 403.5h7M388.5 400v7M385 406.5h7M388.5 403v7M385 404.5h7M388.5 401v7M386 404.5h7M389.5 401v7M386 406.5h7M389.5 403v7M386 405.5h7M389.5 402v7M386 402.5h7M389.5 399v7M386 403.5h7M389.5 400v7M387 404.5h7M390.5 401v7M387 403.5h7M390.5 400v7M387 406.5h7M390.5 403v7M387 405.5h7M390.5 402v7M388 404.5h7M391.5 401v7M388 405.5h7M391.5 402v7M388 406.5h7M391.5 403v7M389 406.5h7M392.5 403v7M389 404.5h7M392.5 401v7M389 405.5h7M392.5 402v7M390 404.5h7M393.5 401v7M390 405.5h7M393.5 402v7M390 403.5h7M393.5 400v7M391 406.5h7M394.5 403v7M391 403.5h7M394.5 400v7M391 405.5h7M394.5 402v7M391 404.5h7M394.5 401v7M392 405.5h7M395.5 402v7M392 403.5h7M395.5 400v7M392 402.5h7M395.5 399v7M392 404.5h7M395.5 401v7M393 402.5h7M396.5 399v7M393 404.5h7M396.5 401v7M393 405.5h7M396.5 402v7M394 406.5h7M397.5 403v7M394 404.5h7M397.5 401v7M395 406.5h7M398.5 403v7M395 405.5h7M398.5 402v7M395 407.5h7M398.5 404v7M395 403.5h7M398.5 400v7M395 404.5h7M398.5 401v7M396 405.5h7M399.5 402v7M396 403.5h7M399.5 400v7M396 406.5h7M399.5 403v7M396 407.5h7M399.5 404v7M396 404.5h7M399.5 401v7M397 406.5h7M400.5 403v7M397 405.5h7M400.5 402v7M397 403.5h7M400.5 400v7M397 404.5h7M400.5 401v7M397 402.5h7M400.5 399v7M398 406.5h7M401.5 403v7M398 405.5h7M401.5 402v7M398 404.5h7M401.5 401v7M398 403.5h7M401.5 400v7M399 405.5h7M402.5 402v7M399 407.5h7M402.5 404v7M399 404.5h7M402.5 401v7M399 406.5h7M402.5 403v7M400 404.5h7M403.5 401v7M400 406.5h7M403.5 403v7M400 405.5h7M403.5 402v7M400 403.5h7M403.5 400v7M401 405.5h7M404.5 402v7M401 404.5h7M404.5 401v7M401 406.5h7M404.5 403v7M402 404.5h7M405.5 401v7M402 405.5h7M405.5 402v7M402 403.5h7M405.5 400v7M403 404.5h7M406.5 401v7M403 407.5h7M406.5 404v7M403 405.5h7M406.5 402v7M404 407.5h7M407.5 404v7M404 403.5h7M407.5 400v7M404 404.5h7M407.5 401v7M404 405.5h7M407.5 402v7M405 404.5h7M408.5 401v7M405 407.5h7M408.5 404v7M405 406.5h7M408.5 403v7M405 405.5h7M408.5 402v7M406 405.5h7M409.5 402v7M406 404.5h7M409.5 401v7M406 403.5h7M409.5 400v7M406 406.5h7M409.5 403v7M407 406.5h7M410.5 403v7M407 404.5h7M410.5 401v7M407 405.5h7M410.5 402v7M408 406.5h7M411.5 403v7M408 404.5h7M411.5 401v7M408 405.5h7M411.5 402v7M409 405.5h7M412.5 402v7M409 403.5h7M412.5 400v7M409 404.5h7M412.5 401v7M410 404.5h7M413.5 401v7M410 405.5h7M413.5 402v7M410 406.5h7M413.5 403v7M410 403.5h7M413.5 400v7M411 407.5h7M414.5 404v7M411 405.5h7M414.5 402v7M411 403.5h7M414.5 400v7M411 404.5h7M414.5 401v7M411 406.5h7M414.5 403v7M412 405.5h7M415.5 402v7M412 403.5h7M415.5 400v7M412 404.5h7M415.5 401v7M413 406.5h7M416.5 403v7M413 405.5h7M416.5 402v7M413 404.5h7M416.5 401v7M413 403.5h7M416.5 400v7M414 404.5h7M417.5 401v7M414 405.5h7M417.5 402v7M414 403.5h7M417.5 400v7M415 405.5h7M418.5 402v7M415 404.5h7M418.5 401v7M416 403.5h7M419.5 400v7M416 404.5h7M419.5 401v7M416 405.5h7M419.5 402v7M417 406.5h7M420.5 403v7M417 405.5h7M420.5 402v7M417 404.5h7M420.5 401v7M418 405.5h7M421.5 402v7M418 403.5h7M421.5 400v7M418 404.5h7M421.5 401v7M419 405.5h7M422.5 402v7M419 407.5h7M422.5 404v7M419 404.5h7M422.5 401v7M419 406.5h7M422.5 403v7M420 404.5h7M423.5 401v7M420 406.5h7M423.5 403v7M420 405.5h7M423.5 402v7M421 405.5h7M424.5 402v7M421 404.5h7M424.5 401v7M421 406.5h7M424.5 403v7M422 404.5h7M425.5 401v7M422 405.5h7M425.5 402v7M422 406.5h7M425.5 403v7M422 403.5h7M425.5 400v7M423 405.5h7M426.5 402v7M423 404.5h7M426.5 401v7M423 407.5h7M426.5 404v7M423 403.5h7M426.5 400v7M424 405.5h7M427.5 402v7M424 403.5h7M427.5 400v7M424 406.5h7M427.5 403v7M427 405.5h7M430.5 402v7M428 405.5h7M431.5 402v7M428 404.5h7M431.5 401v7M428 406.5h7M431.5 403v7M428 407.5h7M431.5 404v7M429 405.5h7M432.5 402v7M429 403.5h7M432.5 400v7M429 404.5h7M432.5 401v7M429 406.5h7M432.5 403v7M430 403.5h7M433.5 400v7M430 404.5h7M433.5 401v7M430 406.5h7M433.5 403v7M430 405.5h7M433.5 402v7M431 405.5h7M434.5 402v7M431 407.5h7M434.5 404v7M431 404.5h7M434.5 401v7M431 406.5h7M434.5 403v7M432 405.5h7M435.5 402v7M432 406.5h7M435.5 403v7M432 403.5h7M435.5 400v7M432 404.5h7M435.5 401v7M433 403.5h7M436.5 400v7M433 404.5h7M436.5 401v7M433 406.5h7M436.5 403v7M434 406.5h7M437.5 403v7M434 404.5h7M437.5 401v7M434 405.5h7M437.5 402v7M434 407.5h7M437.5 404v7M435 404.5h7M438.5 401v7M435 406.5h7M438.5 403v7M435 405.5h7M438.5 402v7M435 403.5h7M438.5 400v7M436 405.5h7M439.5 402v7M436 406.5h7M439.5 403v7M436 404.5h7M439.5 401v7M436 402.5h7M439.5 399v7M436 403.5h7M439.5 400v7M437 406.5h7M440.5 403v7M437 405.5h7M440.5 402v7M437 404.5h7M440.5 401v7M438 403.5h7M441.5 400v7M438 407.5h7M441.5 404v7M438 406.5h7M441.5 403v7M438 404.5h7M441.5 401v7M439 405.5h7M442.5 402v7M439 404.5h7M442.5 401v7M439 406.5h7M442.5 403v7M439 403.5h7M442.5 400v7M440 404.5h7M443.5 401v7M440 406.5h7M443.5 403v7M440 405.5h7M443.5 402v7M440 403.5h7M443.5 400v7M441 404.5h7M444.5 401v7M441 406.5h7M444.5 403v7M441 405.5h7M444.5 402v7M442 405.5h7M445.5 402v7M442 406.5h7M445.5 403v7M443 406.5h7M446.5 403v7M443 403.5h7M446.5 400v7M443 405.5h7M446.5 402v7M443 407.5h7M446.5 404v7M443 404.5h7M446.5 401v7M444 405.5h7M447.5 402v7M444 404.5h7M447.5 401v7M444 406.5h7M447.5 403v7M445 403.5h7M448.5 400v7M445 405.5h7M448.5 402v7M445 404.5h7M448.5 401v7M445 406.5h7M448.5 403v7M446 405.5h7M449.5 402v7M446 404.5h7M449.5 401v7M446 407.5h7M449.5 404v7M446 403.5h7M449.5 400v7M447 404.5h7M450.5 401v7M447 406.5h7M450.5 403v7M447 405.5h7M450.5 402v7M447 403.5h7M450.5 400v7M448 405.5h7M451.5 402v7M448 406.5h7M451.5 403v7M448 403.5h7M451.5 400v7M449 404.5h7M452.5 401v7M449 405.5h7M452.5 402v7M449 406.5h7M452.5 403v7M450 405.5h7M453.5 402v7M450 403.5h7M453.5 400v7M450 406.5h7M453.5 403v7M450 404.5h7M453.5 401v7M451 405.5h7M454.5 402v7M451 406.5h7M454.5 403v7M451 404.5h7M454.5 401v7M452 407.5h7M455.5 404v7M452 404.5h7M455.5 401v7M452 405.5h7M455.5 402v7M452 403.5h7M455.5 400v7M452 406.5h7M455.5 403v7M453 403.5h7M456.5 400v7M453 404.5h7M456.5 401v7M453 405.5h7M456.5 402v7M454 406.5h7M457.5 403v7M454 405.5h7M457.5 402v7M454 404.5h7M457.5 401v7M454 403.5h7M457.5 400v7M455 404.5h7M458.5 401v7M455 403.5h7M458.5 400v7M455 405.5h7M458.5 402v7M455 407.5h7M458.5 404v7M456 404.5h7M459.5 401v7M456 406.5h7M459.5 403v7M456 403.5h7M459.5 400v7M456 405.5h7M459.5 402v7M457 404.5h7M460.5 401v7M457 403.5h7M460.5 400v7M457 405.5h7M460.5 402v7M458 404.5h7M461.5 401v7M458 405.5h7M461.5 402v7M458 406.5h7M461.5 403v7M459 405.5h7M462.5 402v7M459 404.5h7M462.5 401v7M459 407.5h7M462.5 404v7M459 403.5h7M462.5 400v7M460 403.5h7M463.5 400v7M460 407.5h7M463.5 404v7M460 406.5h7M463.5 403v7M460 405.5h7M463.5 402v7M461 404.5h7M464.5 401v7M461 406.5h7M464.5 403v7M461 403.5h7M464.5 400v7M461 407.5h7M464.5 404v7M461 405.5h7M464.5 402v7M462 405.5h7M465.5 402v7M462 404.5h7M465.5 401v7M462 406.5h7M465.5 403v7M463 405.5h7M466.5 402v7M463 404.5h7M466.5 401v7M463 406.5h7M466.5 403v7M463 403.5h7M466.5 400v7M464 407.5h7M467.5 404v7M464 403.5h7M467.5 400v7M464 404.5h7M467.5 401v7M464 405.5h7M467.5 402v7M464 406.5h7M467.5 403v7M465 407.5h7M468.5 404v7M465 405.5h7M468.5 402v7M465 403.5h7M468.5 400v7M465 406.5h7M468.5 403v7M465 404.5h7M468.5 401v7M466 405.5h7M469.5 402v7M466 403.5h7M469.5 400v7M466 404.5h7M469.5 401v7M466 407.5h7M469.5 404v7M467 405.5h7M470.5 402v7M467 404.5h7M470.5 401v7M467 406.5h7M470.5 403v7M467 407.5h7M470.5 404v7M468 406.5h7M471.5 403v7M468 405.5h7M471.5 402v7M468 404.5h7M471.5 401v7M468 403.5h7M471.5 400v7M469 403.5h7M472.5 400v7M469 405.5h7M472.5 402v7M469 406.5h7M472.5 403v7M469 404.5h7M472.5 401v7M470 404.5h7M473.5 401v7M470 406.5h7M473.5 403v7M470 403.5h7M473.5 400v7M470 405.5h7M473.5 402v7M471 403.5h7M474.5 400v7M471 406.5h7M474.5 403v7M471 404.5h7M474.5 401v7M471 405.5h7M474.5 402v7M472 405.5h7M475.5 402v7M472 406.5h7M475.5 403v7M472 404.5h7M475.5 401v7M472 407.5h7M475.5 404v7M473 406.5h7M476.5 403v7M473 403.5h7M476.5 400v7M473 404.5h7M476.5 401v7M473 405.5h7M476.5 402v7M473 407.5h7M476.5 404v7M474 404.5h7M477.5 401v7M474 405.5h7M477.5 402v7M474 406.5h7M477.5 403v7M474 407.5h7M477.5 404v7M474 403.5h7M477.5 400v7M475 405.5h7M478.5 402v7M475 404.5h7M478.5 401v7M475 406.5h7M478.5 403v7M476 403.5h7M479.5 400v7M476 405.5h7M479.5 402v7M476 404.5h7M479.5 401v7M476 406.5h7M479.5 403v7M477 405.5h7M480.5 402v7M477 404.5h7M480.5 401v7M477 406.5h7M480.5 403v7M477 403.5h7M480.5 400v7M478 406.5h7M481.5 403v7M478 403.5h7M481.5 400v7M478 404.5h7M481.5 401v7M478 405.5h7M481.5 402v7M479 406.5h7M482.5 403v7M479 405.5h7M482.5 402v7M479 404.5h7M482.5 401v7M480 403.5h7M483.5 400v7M480 405.5h7M483.5 402v7M480 406.5h7M483.5 403v7M480 404.5h7M483.5 401v7M481 405.5h7M484.5 402v7M481 404.5h7M484.5 401v7M481 403.5h7M484.5 400v7M481 407.5h7M484.5 404v7M482 406.5h7M485.5 403v7M482 404.5h7M485.5 401v7M482 405.5h7M485.5 402v7M483 403.5h7M486.5 400v7M483 404.5h7M486.5 401v7M483 407.5h7M486.5 404v7M483 405.5h7M486.5 402v7M484 404.5h7M487.5 401v7M484 405.5h7M487.5 402v7M484 406.5h7M487.5 403v7M485 404.5h7M488.5 401v7M485 406.5h7M488.5 403v7M485 403.5h7M488.5 400v7M485 405.5h7M488.5 402v7M486 405.5h7M489.5 402v7M486 403.5h7M489.5 400v7M486 406.5h7M489.5 403v7M486 404.5h7M489.5 401v7M487 405.5h7M490.5 402v7M487 404.5h7M490.5 401v7M487 406.5h7M490.5 403v7M487 403.5h7M490.5 400v7M487 407.5h7M490.5 404v7M488 405.5h7M491.5 402v7M488 404.5h7M491.5 401v7M492 405.5h7M495.5 402v7M492 403.5h7M495.5 400v7M492 406.5h7M495.5 403v7M493 405.5h7M496.5 402v7M493 403.5h7M496.5 400v7M493 404.5h7M496.5 401v7M493 406.5h7M496.5 403v7M493 407.5h7M496.5 404v7M494 406.5h7M497.5 403v7M494 403.5h7M497.5 400v7M494 404.5h7M497.5 401v7M494 407.5h7M497.5 404v7M494 405.5h7M497.5 402v7M495 404.5h7M498.5 401v7M495 405.5h7M498.5 402v7M495 406.5h7M498.5 403v7M496 404.5h7M499.5 401v7M496 406.5h7M499.5 403v7M496 405.5h7M499.5 402v7M496 407.5h7M499.5 404v7M497 405.5h7M500.5 402v7M497 404.5h7M500.5 401v7M498 406.5h7M501.5 403v7M498 405.5h7M501.5 402v7M498 403.5h7M501.5 400v7M498 404.5h7M501.5 401v7M499 406.5h7M502.5 403v7M499 404.5h7M502.5 401v7M499 403.5h7M502.5 400v7M500 403.5h7M503.5 400v7M500 407.5h7M503.5 404v7M500 405.5h7M503.5 402v7M500 404.5h7M503.5 401v7M501 406.5h7M504.5 403v7M501 405.5h7M504.5 402v7M501 404.5h7M504.5 401v7M501 407.5h7M504.5 404v7M502 405.5h7M505.5 402v7M502 407.5h7M505.5 404v7M502 404.5h7M505.5 401v7M502 403.5h7M505.5 400v7M503 405.5h7M506.5 402v7M503 407.5h7M506.5 404v7M503 406.5h7M506.5 403v7M503 404.5h7M506.5 401v7M503 402.5h7M506.5 399v7M504 407.5h7M507.5 404v7M504 405.5h7M507.5 402v7M504 403.5h7M507.5 400v7M504 404.5h7M507.5 401v7M505 406.5h7M508.5 403v7M505 405.5h7M508.5 402v7M505 404.5h7M508.5 401v7M505 403.5h7M508.5 400v7M506 404.5h7M509.5 401v7M506 405.5h7M509.5 402v7M506 403.5h7M509.5 400v7M507 404.5h7M510.5 401v7M507 405.5h7M510.5 402v7M507 406.5h7M510.5 403v7M508 406.5h7M511.5 403v7M508 402.5h7M511.5 399v7M508 404.5h7M511.5 401v7M508 405.5h7M511.5 402v7M509 404.5h7M512.5 401v7M509 406.5h7M512.5 403v7M509 405.5h7M512.5 402v7M510 404.5h7M513.5 401v7M510 405.5h7M513.5 402v7M510 407.5h7M513.5 404v7M511 405.5h7M514.5 402v7M511 407.5h7M514.5 404v7M511 406.5h7M514.5 403v7M511 403.5h7M514.5 400v7M512 405.5h7M515.5 402v7M512 404.5h7M515.5 401v7M512 403.5h7M515.5 400v7M513 403.5h7M516.5 400v7M513 405.5h7M516.5 402v7M513 404.5h7M516.5 401v7M513 406.5h7M516.5 403v7M514 404.5h7M517.5 401v7M514 403.5h7M517.5 400v7M514 405.5h7M517.5 402v7M514 406.5h7M517.5 403v7M515 405.5h7M518.5 402v7M515 406.5h7M518.5 403v7M516 404.5h7M519.5 401v7M516 406.5h7M519.5 403v7M516 403.5h7M519.5 400v7M516 405.5h7M519.5 402v7M517 405.5h7M520.5 402v7M517 403.5h7M520.5 400v7M517 404.5h7M520.5 401v7M517 406.5h7M520.5 403v7M517 407.5h7M520.5 404v7M518 406.5h7M521.5 403v7M518 405.5h7M521.5 402v7M518 407.5h7M521.5 404v7M518 403.5h7M521.5 400v7M518 404.5h7M521.5 401v7M519 405.5h7M522.5 402v7M519 407.5h7M522.5 404v7M519 406.5h7M522.5 403v7M519 403.5h7M522.5 400v7M520 404.5h7M523.5 401v7M520 405.5h7M523.5 402v7M521 405.5h7M524.5 402v7M521 406.5h7M524.5 403v7M521 404.5h7M524.5 401v7M521 402.5h7M524.5 399v7M522 406.5h7M525.5 403v7M522 404.5h7M525.5 401v7M522 405.5h7M525.5 402v7M522 407.5h7M525.5 404v7M523 404.5h7M526.5 401v7M523 405.5h7M526.5 402v7M523 406.5h7M526.5 403v7M523 403.5h7M526.5 400v7M524 406.5h7M527.5 403v7M524 404.5h7M527.5 401v7M524 405.5h7M527.5 402v7M525 405.5h7M528.5 402v7M525 406.5h7M528.5 403v7M525 403.5h7M528.5 400v7M525 404.5h7M528.5 401v7M526 403.5h7M529.5 400v7M526 404.5h7M529.5 401v7M526 405.5h7M529.5 402v7M526 406.5h7M529.5 403v7M527 404.5h7M530.5 401v7M527 405.5h7M530.5 402v7M527 406.5h7M530.5 403v7M527 407.5h7M530.5 404v7M527 403.5h7M530.5 400v7M528 406.5h7M531.5 403v7M528 404.5h7M531.5 401v7M528 405.5h7M531.5 402v7M528 403.5h7M531.5 400v7M529 405.5h7M532.5 402v7M529 404.5h7M532.5 401v7M529 406.5h7M532.5 403v7M530 404.5h7M533.5 401v7M530 405.5h7M533.5 402v7M530 407.5h7M533.5 404v7M530 406.5h7M533.5 403v7M531 404.5h7M534.5 401v7M531 406.5h7M534.5 403v7M531 403.5h7M534.5 400v7M531 405.5h7M534.5 402v7M532 405.5h7M535.5 402v7M532 404.5h7M535.5 401v7M532 406.5h7M535.5 403v7M533 406.5h7M536.5 403v7M533 403.5h7M536.5 400v7M533 405.5h7M536.5 402v7M533 407.5h7M536.5 404v7M533 404.5h7M536.5 401v7M534 405.5h7M537.5 402v7M534 403.5h7M537.5 400v7M534 402.5h7M537.5 399v7M534 407.5h7M537.5 404v7M534 406.5h7M537.5 403v7M534 404.5h7M537.5 401v7M535 405.5h7M538.5 402v7M535 404.5h7M538.5 401v7M536 404.5h7M539.5 401v7M536 406.5h7M539.5 403v7M536 403.5h7M539.5 400v7M536 405.5h7M539.5 402v7M537 405.5h7M540.5 402v7M537 404.5h7M540.5 401v7M537 406.5h7M540.5 403v7M537 403.5h7M540.5 400v7M538 407.5h7M541.5 404v7M538 405.5h7M541.5 402v7M538 403.5h7M541.5 400v7M538 406.5h7M541.5 403v7M539 403.5h7M542.5 400v7M539 404.5h7M542.5 401v7M539 405.5h7M542.5 402v7M539 406.5h7M542.5 403v7M540 405.5h7M543.5 402v7M540 404.5h7M543.5 401v7M540 406.5h7M543.5 403v7M544 407.5h7M547.5 404v7M544 404.5h7M547.5 401v7M545 406.5h7M548.5 403v7M545 405.5h7M548.5 402v7M545 403.5h7M548.5 400v7M545 404.5h7M548.5 401v7M546 405.5h7M549.5 402v7M546 406.5h7M549.5 403v7M546 404.5h7M549.5 401v7M546 403.5h7M549.5 400v7M547 406.5h7M550.5 403v7M547 404.5h7M550.5 401v7M547 405.5h7M550.5 402v7M548 405.5h7M551.5 402v7M548 407.5h7M551.5 404v7M548 403.5h7M551.5 400v7M548 404.5h7M551.5 401v7M549 404.5h7M552.5 401v7M549 407.5h7M552.5 404v7M549 405.5h7M552.5 402v7M549 406.5h7M552.5 403v7M550 407.5h7M553.5 404v7M550 405.5h7M553.5 402v7M550 404.5h7M553.5 401v7M550 403.5h7M553.5 400v7M551 405.5h7M554.5 402v7M551 404.5h7M554.5 401v7M551 406.5h7M554.5 403v7M551 407.5h7M554.5 404v7M552 405.5h7M555.5 402v7M552 403.5h7M555.5 400v7M552 407.5h7M555.5 404v7M552 404.5h7M555.5 401v7M552 406.5h7M555.5 403v7M553 406.5h7M556.5 403v7M553 403.5h7M556.5 400v7M553 405.5h7M556.5 402v7M553 404.5h7M556.5 401v7M554 405.5h7M557.5 402v7M554 406.5h7M557.5 403v7M554 403.5h7M557.5 400v7M555 406.5h7M558.5 403v7M555 405.5h7M558.5 402v7M555 404.5h7M558.5 401v7M556 405.5h7M559.5 402v7M556 406.5h7M559.5 403v7M556 407.5h7M559.5 404v7M557 403.5h7M560.5 400v7M557 406.5h7M560.5 403v7M557 404.5h7M560.5 401v7M557 405.5h7M560.5 402v7M558 406.5h7M561.5 403v7M558 405.5h7M561.5 402v7M558 404.5h7M561.5 401v7M460 409.5h7M463.5 406v7M186 382.5h7M189.5 379v7M165 424.5h7M168.5 421v7M179 424.5h7M182.5 421v7M183 424.5h7M186.5 421v7M246 424.5h7M249.5 421v7M157 426.5h7M160.5 423v7M197 426.5h7M200.5 423v7M186 383.5h7" stroke="#9400d3" stroke-width="1" fill="none"/>
<path d="M149.9 411V431M288.9 396V431M339.4 396V405M189.5 382.5V431" stroke="#9400d3" stroke-width="1.5" fill="none"/>
<path d="M99 97.50H562" stroke="#009e73" stroke-width="1" fill="none"/>
<path d="M475 74.5H520M497.5 71V78" stroke="#9400d3" stroke-width="1" fill="none"/>
<path d="M475 94.5H520" stroke="#009e73" stroke-width="1" fill="none"/>
<rect x="85.5" y="60.5" width="524.0" height="379.0" fill="none" stroke="#000" stroke-width="1"/>
<g font-family="'DejaVu Sans', sans-serif" font-size="15" fill="#000">
<text x="72.4" y="444" text-anchor="end">0</text>
<text x="72.4" y="397" text-anchor="end">50</text>
<text x="72.4" y="349" text-anchor="end">100</text>
<text x="72.4" y="302" text-anchor="end">150</text>
<text x="72.4" y="255" text-anchor="end">200</text>
<text x="72.4" y="207" text-anchor="end">250</text>
<text x="72.4" y="160" text-anchor="end">300</text>
<text x="72.4" y="112" text-anchor="end">350</text>
<text x="72.4" y="65" text-anchor="end">400</text>
<text x="49.25" y="464">01/01/15</text>
<text x="107.44" y="464">01/01/16</text>
<text x="165.78" y="464">01/01/17</text>
<text x="223.97" y="464">01/01/18</text>
<text x="282.16" y="464">01/01/19</text>
<text x="340.34" y="464">01/01/20</text>
<text x="398.69" y="464">01/01/21</text>
<text x="456.88" y="464">01/01/22</text>
<text x="515.06" y="464">01/01/23</text>
<text x="573.25" y="464">01/01/24</text>
</g>
<g font-family="'DejaVu Sans', sans-serif" font-stretch="condensed" font-size="15" fill="#000" stroke="#000" stroke-width="0.2">
<text transform="translate(93.70,35.0) scale(1.03,1)" font-size="15" letter-spacing="-0.166">Benchmark</text>
<text transform="translate(174.79,35.0) scale(1.03,1)" font-size="15" letter-spacing="0.196">runtime</text>
<text transform="translate(234.15,35.0) scale(1.03,1)" font-size="15" letter-spacing="0.000">in</text>
<text transform="translate(251.29,35.0) scale(1.03,1)" font-size="15" letter-spacing="0.000">s</text>
<text transform="translate(262.83,35.0) scale(1.03,1)" font-size="15" letter-spacing="0.150">for</text>
<text transform="translate(286.59,35.0) scale(1.03,1)" font-size="15" letter-spacing="-0.020">producer</text>
<text transform="translate(352.51,39.0) scale(1.03,1)" font-size="12.4" letter-spacing="0.000" font-stretch="normal" stroke="none">c</text>
<text transform="translate(362.06,35.0) scale(1.03,1)" font-size="15" letter-spacing="-0.229">onsumer</text>
<text transform="translate(424.75,39.0) scale(1.03,1)" font-size="12.4" letter-spacing="0.000" font-stretch="normal" stroke="none">s</text>
<text transform="translate(434.16,35.0) scale(1.03,1)" font-size="15" letter-spacing="-0.037">equence-thread-bitmap</text>
<text transform="translate(94.29,79.0) scale(1.03,1)" font-size="15" letter-spacing="-0.020">producer</text>
<text transform="translate(160.21,83.0) scale(1.03,1)" font-size="12.4" letter-spacing="0.000" font-stretch="normal" stroke="none">c</text>
<text transform="translate(169.76,79.0) scale(1.03,1)" font-size="15" letter-spacing="-0.229">onsumer</text>
<text transform="translate(232.45,83.0) scale(1.03,1)" font-size="12.4" letter-spacing="0.000" font-stretch="normal" stroke="none">s</text>
<text transform="translate(241.86,79.0) scale(1.03,1)" font-size="15" letter-spacing="-0.037">equence-thread-bitmap</text>
<text x="94.6" y="99" font-stretch="normal" stroke="none" font-size="15.2" letter-spacing="-0.85">4.1.0</text>
<text transform="translate(20.6,251.3) rotate(-90)" text-anchor="middle">s</text>
</g>
</svg>
</body></html>
